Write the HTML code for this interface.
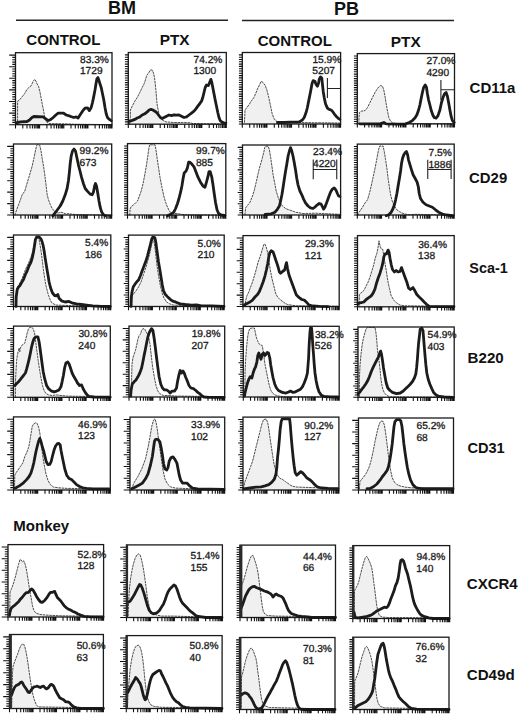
<!DOCTYPE html>
<html><head><meta charset="utf-8"><title>Figure</title>
<style>
html,body{margin:0;padding:0;background:#fff;}
body{width:520px;height:715px;overflow:hidden;}
svg{display:block;}
text{font-family:"Liberation Sans",sans-serif;fill:#111;}
.h1{font-size:18px;font-weight:bold;}
.h2{font-size:15px;font-weight:bold;}
.p{font-size:15.4px;}
.h3{font-size:15px;font-weight:bold;}
.lb{font-size:10.2px;fill:#1a1a1a;stroke:#1a1a1a;stroke-width:0.3;text-rendering:geometricPrecision;}
.hl{stroke:#222;stroke-width:1.5;}
.bx{fill:none;stroke:#1a1a1a;stroke-width:1.3;}
.tk{fill:none;stroke:#111;stroke-width:1.1;}
.gf{fill:#f0f0f0;stroke:none;}
.go{fill:none;stroke:#3a3a3a;stroke-width:0.9;stroke-dasharray:2.6 0.7;stroke-linejoin:round;}
.bk{fill:none;stroke:#1c1c1c;stroke-width:2.8;stroke-linejoin:round;stroke-linecap:round;}
.gt{fill:none;stroke:#222;stroke-width:1.1;}
</style></head><body>
<svg width="520" height="715" viewBox="0 0 520 715" xmlns="http://www.w3.org/2000/svg">
<text x="107.9" y="14.4" class="h1">BM</text>
<text x="334.1" y="15.0" class="h1">PB</text>
<line x1="16" y1="20.3" x2="228" y2="20.3" class="hl"/>
<line x1="242" y1="20.6" x2="454" y2="20.6" class="hl"/>
<text x="26.3" y="45.3" class="h2">CONTROL</text>
<text x="159.7" y="45.3" class="h2 p">PTX</text>
<text x="257.7" y="45.8" class="h2">CONTROL</text>
<text x="390.8" y="46.5" class="h2 p">PTX</text>
<text x="13.35" y="531.3" class="h2">Monkey</text>
<text x="469.6" y="92.8" class="h3" style="font-size:15.0px">CD11a</text>
<text x="469.1" y="182.6" class="h3" style="font-size:14.9px">CD29</text>
<text x="469.3" y="273.1" class="h3" style="font-size:14.4px">Sca-1</text>
<text x="467.6" y="362.6" class="h3" style="font-size:15.1px">B220</text>
<text x="467.4" y="453.1" class="h3" style="font-size:14.6px">CD31</text>
<text x="466.8" y="589.0" class="h3" style="font-size:15.0px">CXCR4</text>
<text x="466.8" y="679.7" class="h3" style="font-size:15.1px">CD49d</text>
<polygon points="17.6,124.7 17.6,125.0 17.6,111.2 17.6,101.2 19.5,100.0 22.0,96.9 24.5,93.8 27.0,89.4 28.9,87.5 30.8,86.2 32.0,83.8 33.2,81.2 34.8,79.4 36.0,81.2 37.0,83.8 38.5,86.2 39.8,91.2 41.0,97.5 42.2,103.8 43.5,110.0 44.5,116.2 45.5,120.0 47.0,122.5 50.0,123.6 64.5,123.8 74.0,124.2 111.6,124.6 111.6,124.7" class="gf"/>
<polyline points="17.6,125.0 17.6,111.2 17.6,101.2 19.5,100.0 22.0,96.9 24.5,93.8 27.0,89.4 28.9,87.5 30.8,86.2 32.0,83.8 33.2,81.2 34.8,79.4 36.0,81.2 37.0,83.8 38.5,86.2 39.8,91.2 41.0,97.5 42.2,103.8 43.5,110.0 44.5,116.2 45.5,120.0 47.0,122.5 50.0,123.6 64.5,123.8 74.0,124.2 111.6,124.6" class="go"/>
<polyline points="16.3,122.6 17.6,122.5 20.8,121.9 27.0,121.5 29.5,120.0 32.0,117.5 33.9,116.5 43.2,116.9 45.8,118.8 48.2,120.6 50.8,119.4 53.2,117.5 55.8,115.0 58.2,113.1 63.5,113.1 66.2,115.0 70.0,116.2 73.8,117.5 76.2,116.9 78.1,118.1 80.0,115.0 82.5,111.2 85.0,108.1 87.5,107.8 89.4,110.6 91.2,107.5 92.5,102.5 93.8,96.2 95.0,90.0 96.0,83.8 96.9,78.8 97.9,77.5 98.8,80.0 100.0,83.8 101.2,87.5 102.5,93.8 103.8,100.0 105.0,107.5 106.2,113.8 107.5,117.5 109.4,119.4 111.2,120.6" class="bk"/>
<rect x="15.5" y="52.7" width="96.5" height="72.0" class="bx"/>
<path d="M9.2 55.1H15.5M12.3 57.4H15.5M12.3 59.7H15.5M12.3 62.1H15.5M12.3 64.4H15.5M9.2 66.7H15.5M12.3 69.0H15.5M12.3 71.3H15.5M12.3 73.7H15.5M12.3 76.0H15.5M9.2 78.3H15.5M12.3 80.6H15.5M12.3 82.9H15.5M12.3 85.3H15.5M12.3 87.6H15.5M9.2 89.9H15.5M12.3 92.2H15.5M12.3 94.5H15.5M12.3 96.9H15.5M12.3 99.2H15.5M9.2 101.5H15.5M12.3 103.8H15.5M12.3 106.1H15.5M12.3 108.5H15.5M12.3 110.8H15.5M9.2 113.1H15.5M12.3 115.4H15.5M12.3 117.7H15.5M12.3 120.1H15.5M12.3 122.4H15.5M9.2 124.7H15.5M15.5 124.7V128.5M22.8 124.7V128.5M27.0 124.7V128.5M30.0 124.7V128.5M32.4 124.7V128.5M34.3 124.7V128.5M35.9 124.7V128.5M37.3 124.7V128.5M38.5 124.7V128.5M39.6 124.7V128.5M46.9 124.7V128.5M51.1 124.7V128.5M54.1 124.7V128.5M56.5 124.7V128.5M58.4 124.7V128.5M60.0 124.7V128.5M61.4 124.7V128.5M62.6 124.7V128.5M63.8 124.7V128.5M71.0 124.7V128.5M75.3 124.7V128.5M78.3 124.7V128.5M80.6 124.7V128.5M82.5 124.7V128.5M84.1 124.7V128.5M85.5 124.7V128.5M86.8 124.7V128.5M87.9 124.7V128.5M95.1 124.7V128.5M99.4 124.7V128.5M102.4 124.7V128.5M104.7 124.7V128.5M106.6 124.7V128.5M108.3 124.7V128.5M109.7 124.7V128.5M110.9 124.7V128.5M112.0 124.7V128.5" class="tk"/>
<text transform="translate(80.0,62.5) " class="lb">83.3%</text>
<text transform="translate(79.9,74.1) " class="lb">1729</text>
<polygon points="129.5,124.2 129.5,124.4 130.4,116.2 130.4,110.0 132.2,106.2 134.8,101.2 137.2,97.5 139.8,92.5 142.2,87.5 144.1,83.8 145.4,80.0 146.6,75.6 148.5,73.1 150.4,70.0 152.2,70.0 153.5,73.1 154.5,77.5 155.4,85.0 156.0,91.2 156.6,98.8 157.2,105.0 158.2,110.0 159.1,115.0 160.4,118.1 162.2,120.0 166.0,121.9 173.5,122.5 182.2,122.5 191.0,122.8 192.0,123.5 226.0,124.0 226.0,124.2" class="gf"/>
<polyline points="129.5,124.4 130.4,116.2 130.4,110.0 132.2,106.2 134.8,101.2 137.2,97.5 139.8,92.5 142.2,87.5 144.1,83.8 145.4,80.0 146.6,75.6 148.5,73.1 150.4,70.0 152.2,70.0 153.5,73.1 154.5,77.5 155.4,85.0 156.0,91.2 156.6,98.8 157.2,105.0 158.2,110.0 159.1,115.0 160.4,118.1 162.2,120.0 166.0,121.9 173.5,122.5 182.2,122.5 191.0,122.8 192.0,123.5 226.0,124.0" class="go"/>
<polyline points="129.2,121.3 131.6,120.6 134.8,119.4 137.2,118.1 139.8,116.9 142.2,115.0 144.8,113.8 147.2,111.9 149.1,110.0 151.0,109.4 152.9,110.0 154.8,111.2 156.6,112.5 158.5,115.0 160.4,117.5 162.2,118.5 164.1,117.5 166.5,116.2 169.0,115.0 171.5,115.6 174.0,114.8 176.5,115.2 179.0,115.0 181.5,116.2 184.0,117.5 186.5,116.9 189.0,115.0 191.5,113.1 194.0,111.2 195.9,108.8 197.8,106.2 199.6,103.8 201.5,101.2 202.8,97.5 204.0,92.5 205.2,87.5 206.5,85.0 208.4,85.6 209.6,82.5 210.9,79.4 211.8,82.5 212.8,87.5 214.0,93.8 215.2,100.0 216.5,106.2 217.8,112.5 219.0,117.5 220.2,120.6 222.1,122.2 224.0,122.8 225.9,123.1" class="bk"/>
<rect x="128.3" y="52.5" width="98.0" height="71.7" class="bx"/>
<path d="M124.9 54.9H128.3M124.9 57.2H128.3M124.9 59.5H128.3M124.9 61.8H128.3M124.9 64.1H128.3M124.9 66.5H128.3M124.9 68.8H128.3M124.9 71.1H128.3M124.9 73.4H128.3M124.9 75.7H128.3M124.9 78.0H128.3M124.9 80.3H128.3M124.9 82.6H128.3M124.9 84.9H128.3M124.9 87.2H128.3M124.9 89.5H128.3M124.9 91.9H128.3M124.9 94.2H128.3M124.9 96.5H128.3M124.9 98.8H128.3M124.9 101.1H128.3M124.9 103.4H128.3M124.9 105.7H128.3M124.9 108.0H128.3M124.9 110.3H128.3M124.9 112.7H128.3M124.9 115.0H128.3M124.9 117.3H128.3M124.9 119.6H128.3M124.9 121.9H128.3M124.9 124.2H128.3M128.3 124.2V128.0M135.7 124.2V128.0M140.0 124.2V128.0M143.1 124.2V128.0M145.4 124.2V128.0M147.4 124.2V128.0M149.0 124.2V128.0M150.4 124.2V128.0M151.7 124.2V128.0M152.8 124.2V128.0M160.2 124.2V128.0M164.5 124.2V128.0M167.6 124.2V128.0M169.9 124.2V128.0M171.9 124.2V128.0M173.5 124.2V128.0M174.9 124.2V128.0M176.2 124.2V128.0M177.3 124.2V128.0M184.7 124.2V128.0M189.0 124.2V128.0M192.1 124.2V128.0M194.4 124.2V128.0M196.4 124.2V128.0M198.0 124.2V128.0M199.4 124.2V128.0M200.7 124.2V128.0M201.8 124.2V128.0M209.2 124.2V128.0M213.5 124.2V128.0M216.6 124.2V128.0M218.9 124.2V128.0M220.9 124.2V128.0M222.5 124.2V128.0M223.9 124.2V128.0M225.2 124.2V128.0M226.3 124.2V128.0" class="tk"/>
<text transform="translate(193.5,62.9) " class="lb">74.2%</text>
<text transform="translate(193.4,74.4) " class="lb">1300</text>
<polygon points="244.4,124.0 244.4,122.8 244.4,122.5 244.8,115.0 245.0,110.0 246.9,107.5 248.8,105.0 251.2,101.2 253.8,97.5 255.6,93.8 257.5,88.8 259.4,85.0 261.2,81.2 263.1,82.5 265.0,85.0 266.9,90.0 268.8,97.5 270.6,106.2 272.2,113.8 273.8,118.1 275.6,120.6 277.5,121.9 281.2,122.2 300.0,122.6 340.0,123.0 340.0,124.0" class="gf"/>
<polyline points="244.4,122.8 244.4,122.5 244.8,115.0 245.0,110.0 246.9,107.5 248.8,105.0 251.2,101.2 253.8,97.5 255.6,93.8 257.5,88.8 259.4,85.0 261.2,81.2 263.1,82.5 265.0,85.0 266.9,90.0 268.8,97.5 270.6,106.2 272.2,113.8 273.8,118.1 275.6,120.6 277.5,121.9 281.2,122.2 300.0,122.6 340.0,123.0" class="go"/>
<polyline points="277.5,122.5 283.8,122.5 290.0,122.2 296.2,122.2 299.2,121.9 302.4,120.0 304.2,117.5 306.1,112.5 307.4,107.5 308.6,101.2 309.9,95.0 311.1,88.8 312.0,83.8 313.2,80.6 314.9,81.2 316.1,84.4 317.4,86.2 318.6,83.1 319.2,79.4 320.5,76.9 321.8,78.1 322.4,83.8 323.2,91.2 324.2,97.5 325.5,103.8 327.4,108.1 329.2,109.4 331.1,110.0 332.4,111.2 334.2,113.8 336.1,116.2 338.0,118.1 339.9,119.4" class="bk"/>
<rect x="242.3" y="52.5" width="98.3" height="71.5" class="bx"/>
<path d="M238.9 54.9H242.3M238.9 57.2H242.3M238.9 59.5H242.3M238.9 61.8H242.3M238.9 64.1H242.3M238.9 66.4H242.3M238.9 68.7H242.3M238.9 71.0H242.3M238.9 73.3H242.3M238.9 75.6H242.3M238.9 77.9H242.3M238.9 80.2H242.3M238.9 82.5H242.3M238.9 84.8H242.3M238.9 87.1H242.3M238.9 89.4H242.3M238.9 91.8H242.3M238.9 94.1H242.3M238.9 96.4H242.3M238.9 98.7H242.3M238.9 101.0H242.3M238.9 103.3H242.3M238.9 105.6H242.3M238.9 107.9H242.3M238.9 110.2H242.3M238.9 112.5H242.3M238.9 114.8H242.3M238.9 117.1H242.3M238.9 119.4H242.3M238.9 121.7H242.3M238.9 124.0H242.3M242.3 124.0V127.8M249.7 124.0V127.8M254.0 124.0V127.8M257.1 124.0V127.8M259.5 124.0V127.8M261.4 124.0V127.8M263.1 124.0V127.8M264.5 124.0V127.8M265.8 124.0V127.8M266.9 124.0V127.8M274.3 124.0V127.8M278.6 124.0V127.8M281.7 124.0V127.8M284.1 124.0V127.8M286.0 124.0V127.8M287.6 124.0V127.8M289.1 124.0V127.8M290.3 124.0V127.8M291.5 124.0V127.8M298.8 124.0V127.8M303.2 124.0V127.8M306.2 124.0V127.8M308.6 124.0V127.8M310.6 124.0V127.8M312.2 124.0V127.8M313.6 124.0V127.8M314.9 124.0V127.8M316.0 124.0V127.8M323.4 124.0V127.8M327.8 124.0V127.8M330.8 124.0V127.8M333.2 124.0V127.8M335.1 124.0V127.8M336.8 124.0V127.8M338.2 124.0V127.8M339.5 124.0V127.8M340.6 124.0V127.8" class="tk"/>
<text transform="translate(312.4,63.1) " class="lb">15.9%</text>
<text transform="translate(312.3,74.2) " class="lb">5207</text>
<polygon points="358.8,123.8 358.8,124.0 358.8,123.8 359.0,117.5 359.4,112.5 361.2,111.2 365.0,110.6 367.5,107.5 370.0,102.5 372.5,97.5 375.0,92.5 376.9,89.4 378.8,86.9 380.6,85.6 382.5,86.2 383.8,90.0 385.0,96.2 386.2,103.8 387.5,111.2 388.8,117.5 390.6,121.2 392.5,122.8 398.8,123.8 454.0,124.0 454.0,123.8" class="gf"/>
<polyline points="358.8,124.0 358.8,123.8 359.0,117.5 359.4,112.5 361.2,111.2 365.0,110.6 367.5,107.5 370.0,102.5 372.5,97.5 375.0,92.5 376.9,89.4 378.8,86.9 380.6,85.6 382.5,86.2 383.8,90.0 385.0,96.2 386.2,103.8 387.5,111.2 388.8,117.5 390.6,121.2 392.5,122.8 398.8,123.8 454.0,124.0" class="go"/>
<polyline points="360.0,123.8 380.0,123.8 382.0,123.2 383.8,122.5 385.5,123.5 386.2,123.8 398.8,124.2 400.5,124.2 405.5,123.8 409.2,122.5 412.4,120.6 414.9,118.1 416.8,115.0 418.6,110.0 419.9,105.0 421.1,98.8 422.4,92.5 423.6,87.5 425.2,85.0 426.5,87.5 427.4,93.8 428.6,100.0 429.9,105.0 431.1,110.0 432.8,115.0 434.2,117.5 436.1,118.1 438.0,115.6 439.9,110.0 441.5,102.5 443.0,97.5 444.5,93.8 446.1,92.5 447.4,96.2 448.6,102.5 449.9,110.0 451.1,116.2 452.4,120.6 454.2,122.5" class="bk"/>
<rect x="357.3" y="53.6" width="97.2" height="70.2" class="bx"/>
<path d="M353.9 56.0H357.3M353.9 58.3H357.3M353.9 60.5H357.3M353.9 62.8H357.3M353.9 65.0H357.3M353.9 67.3H357.3M353.9 69.6H357.3M353.9 71.8H357.3M353.9 74.1H357.3M353.9 76.3H357.3M353.9 78.6H357.3M353.9 80.9H357.3M353.9 83.1H357.3M353.9 85.4H357.3M353.9 87.6H357.3M353.9 89.9H357.3M353.9 92.2H357.3M353.9 94.4H357.3M353.9 96.7H357.3M353.9 98.9H357.3M353.9 101.2H357.3M353.9 103.5H357.3M353.9 105.7H357.3M353.9 108.0H357.3M353.9 110.2H357.3M353.9 112.5H357.3M353.9 114.8H357.3M353.9 117.0H357.3M353.9 119.3H357.3M353.9 121.5H357.3M353.9 123.8H357.3M357.3 123.8V127.6M364.6 123.8V127.6M368.9 123.8V127.6M371.9 123.8V127.6M374.3 123.8V127.6M376.2 123.8V127.6M377.8 123.8V127.6M379.2 123.8V127.6M380.5 123.8V127.6M381.6 123.8V127.6M388.9 123.8V127.6M393.2 123.8V127.6M396.2 123.8V127.6M398.6 123.8V127.6M400.5 123.8V127.6M402.1 123.8V127.6M403.5 123.8V127.6M404.8 123.8V127.6M405.9 123.8V127.6M413.2 123.8V127.6M417.5 123.8V127.6M420.5 123.8V127.6M422.9 123.8V127.6M424.8 123.8V127.6M426.4 123.8V127.6M427.8 123.8V127.6M429.1 123.8V127.6M430.2 123.8V127.6M437.5 123.8V127.6M441.8 123.8V127.6M444.8 123.8V127.6M447.2 123.8V127.6M449.1 123.8V127.6M450.7 123.8V127.6M452.1 123.8V127.6M453.4 123.8V127.6M454.5 123.8V127.6" class="tk"/>
<text transform="translate(426.5,64.1) " class="lb">27.0%</text>
<text transform="translate(426.4,75.8) " class="lb">4290</text>
<polygon points="15.0,215.0 15.0,215.3 15.4,213.5 16.6,209.8 18.5,204.8 20.4,199.8 22.2,194.8 24.8,191.0 26.6,184.8 28.5,178.5 30.4,172.2 32.2,166.0 34.1,157.2 35.4,151.0 36.6,145.4 37.9,144.5 39.8,145.4 41.0,151.0 42.2,158.5 43.5,166.0 44.8,174.8 46.0,184.8 47.2,194.8 48.5,199.8 50.4,204.8 52.2,208.5 54.1,211.0 56.0,212.2 58.5,212.9 61.0,212.2 63.5,212.9 66.0,214.1 68.5,213.5 71.0,214.1 76.0,214.5 99.0,215.0 111.0,215.3 111.0,215.0" class="gf"/>
<polyline points="15.0,215.3 15.4,213.5 16.6,209.8 18.5,204.8 20.4,199.8 22.2,194.8 24.8,191.0 26.6,184.8 28.5,178.5 30.4,172.2 32.2,166.0 34.1,157.2 35.4,151.0 36.6,145.4 37.9,144.5 39.8,145.4 41.0,151.0 42.2,158.5 43.5,166.0 44.8,174.8 46.0,184.8 47.2,194.8 48.5,199.8 50.4,204.8 52.2,208.5 54.1,211.0 56.0,212.2 58.5,212.9 61.0,212.2 63.5,212.9 66.0,214.1 68.5,213.5 71.0,214.1 76.0,214.5 99.0,215.0 111.0,215.3" class="go"/>
<polyline points="52.8,215.8 56.5,211.0 60.2,206.0 62.8,201.0 65.2,194.8 67.1,188.5 68.4,181.0 69.4,172.2 70.2,163.5 71.2,156.0 72.5,151.0 74.0,149.1 75.5,151.0 76.8,157.2 78.4,164.8 80.0,171.0 81.5,177.2 83.4,183.5 85.2,188.5 87.8,191.6 90.2,194.1 92.1,194.8 93.4,192.2 94.6,186.0 95.5,183.5 96.5,186.0 97.8,193.5 99.0,201.0 100.2,207.2 101.5,211.6 103.4,214.8 105.2,215.5" class="bk"/>
<rect x="13.5" y="144.0" width="98.2" height="71.0" class="bx"/>
<path d="M7.2 146.4H13.5M10.3 148.7H13.5M10.3 151.0H13.5M10.3 153.3H13.5M10.3 155.5H13.5M7.2 157.8H13.5M10.3 160.1H13.5M10.3 162.4H13.5M10.3 164.7H13.5M10.3 167.0H13.5M7.2 169.3H13.5M10.3 171.6H13.5M10.3 173.8H13.5M10.3 176.1H13.5M10.3 178.4H13.5M7.2 180.7H13.5M10.3 183.0H13.5M10.3 185.3H13.5M10.3 187.6H13.5M10.3 189.8H13.5M7.2 192.1H13.5M10.3 194.4H13.5M10.3 196.7H13.5M10.3 199.0H13.5M10.3 201.3H13.5M7.2 203.6H13.5M10.3 205.9H13.5M10.3 208.1H13.5M10.3 210.4H13.5M10.3 212.7H13.5M7.2 215.0H13.5M13.5 215.0V218.8M20.9 215.0V218.8M25.2 215.0V218.8M28.3 215.0V218.8M30.7 215.0V218.8M32.6 215.0V218.8M34.2 215.0V218.8M35.7 215.0V218.8M36.9 215.0V218.8M38.0 215.0V218.8M45.4 215.0V218.8M49.8 215.0V218.8M52.8 215.0V218.8M55.2 215.0V218.8M57.2 215.0V218.8M58.8 215.0V218.8M60.2 215.0V218.8M61.5 215.0V218.8M62.6 215.0V218.8M70.0 215.0V218.8M74.3 215.0V218.8M77.4 215.0V218.8M79.8 215.0V218.8M81.7 215.0V218.8M83.3 215.0V218.8M84.8 215.0V218.8M86.0 215.0V218.8M87.2 215.0V218.8M94.5 215.0V218.8M98.9 215.0V218.8M101.9 215.0V218.8M104.3 215.0V218.8M106.3 215.0V218.8M107.9 215.0V218.8M109.3 215.0V218.8M110.6 215.0V218.8M111.7 215.0V218.8" class="tk"/>
<text transform="translate(79.6,154.1) " class="lb">99.2%</text>
<text transform="translate(79.5,165.8) " class="lb">673</text>
<polygon points="129.8,215.0 129.8,215.5 129.8,214.1 130.0,209.1 131.2,206.6 134.4,204.1 137.5,201.0 139.4,196.0 141.2,191.0 143.1,183.5 145.0,173.5 146.5,164.8 147.8,156.0 148.8,148.5 149.6,144.8 155.0,144.8 156.0,149.8 157.2,158.5 158.5,167.2 160.0,177.2 161.9,187.2 163.8,196.0 165.6,202.2 167.5,207.2 169.4,211.0 171.2,212.9 173.8,213.5 177.5,213.6 180.0,214.1 185.0,214.8 225.0,215.3 225.0,215.0" class="gf"/>
<polyline points="129.8,215.5 129.8,214.1 130.0,209.1 131.2,206.6 134.4,204.1 137.5,201.0 139.4,196.0 141.2,191.0 143.1,183.5 145.0,173.5 146.5,164.8 147.8,156.0 148.8,148.5 149.6,144.8 155.0,144.8 156.0,149.8 157.2,158.5 158.5,167.2 160.0,177.2 161.9,187.2 163.8,196.0 165.6,202.2 167.5,207.2 169.4,211.0 171.2,212.9 173.8,213.5 177.5,213.6 180.0,214.1 185.0,214.8 225.0,215.3" class="go"/>
<polyline points="167.5,215.8 171.2,214.1 173.8,212.2 175.6,208.5 177.5,203.5 179.0,198.5 180.6,192.2 181.9,186.0 183.1,178.5 184.2,172.9 186.1,171.0 187.4,167.9 188.6,162.2 189.9,162.2 191.8,164.1 194.2,167.2 196.1,172.2 198.0,177.2 200.5,182.2 203.0,186.0 204.9,187.2 206.1,183.5 207.8,177.2 209.0,171.6 210.2,171.6 211.8,177.2 213.0,184.8 214.2,193.5 215.5,202.2 217.0,209.8 218.6,213.5 221.1,215.0 224.2,215.4" class="bk"/>
<rect x="127.5" y="143.6" width="98.3" height="71.4" class="bx"/>
<path d="M124.1 146.0H127.5M124.1 148.3H127.5M124.1 150.6H127.5M124.1 152.9H127.5M124.1 155.2H127.5M124.1 157.5H127.5M124.1 159.8H127.5M124.1 162.1H127.5M124.1 164.4H127.5M124.1 166.7H127.5M124.1 169.0H127.5M124.1 171.3H127.5M124.1 173.6H127.5M124.1 175.9H127.5M124.1 178.2H127.5M124.1 180.5H127.5M124.1 182.8H127.5M124.1 185.1H127.5M124.1 187.4H127.5M124.1 189.7H127.5M124.1 192.0H127.5M124.1 194.3H127.5M124.1 196.6H127.5M124.1 198.9H127.5M124.1 201.2H127.5M124.1 203.5H127.5M124.1 205.8H127.5M124.1 208.1H127.5M124.1 210.4H127.5M124.1 212.7H127.5M124.1 215.0H127.5M127.5 215.0V218.8M134.9 215.0V218.8M139.2 215.0V218.8M142.3 215.0V218.8M144.7 215.0V218.8M146.6 215.0V218.8M148.3 215.0V218.8M149.7 215.0V218.8M151.0 215.0V218.8M152.1 215.0V218.8M159.5 215.0V218.8M163.8 215.0V218.8M166.9 215.0V218.8M169.3 215.0V218.8M171.2 215.0V218.8M172.8 215.0V218.8M174.3 215.0V218.8M175.5 215.0V218.8M176.7 215.0V218.8M184.0 215.0V218.8M188.4 215.0V218.8M191.4 215.0V218.8M193.8 215.0V218.8M195.8 215.0V218.8M197.4 215.0V218.8M198.8 215.0V218.8M200.1 215.0V218.8M201.2 215.0V218.8M208.6 215.0V218.8M213.0 215.0V218.8M216.0 215.0V218.8M218.4 215.0V218.8M220.3 215.0V218.8M222.0 215.0V218.8M223.4 215.0V218.8M224.7 215.0V218.8M225.8 215.0V218.8" class="tk"/>
<text transform="translate(196.0,154.4) " class="lb">99.7%</text>
<text transform="translate(195.9,166.3) " class="lb">885</text>
<polygon points="245.0,215.0 245.0,215.0 245.0,214.1 245.6,207.9 247.5,205.4 250.0,202.2 252.5,196.0 254.4,189.8 256.2,182.2 258.1,173.5 260.0,166.0 262.2,158.5 263.8,152.2 264.8,147.2 265.6,146.2 268.1,146.2 269.4,149.8 270.6,157.2 271.9,166.0 273.1,174.8 274.8,183.5 276.2,191.0 278.1,197.2 280.0,202.2 282.5,206.0 285.6,208.5 288.8,209.8 292.5,211.0 295.5,212.2 303.0,213.5 315.5,213.2 328.0,213.8 340.0,214.3 340.0,215.0" class="gf"/>
<polyline points="245.0,215.0 245.0,214.1 245.6,207.9 247.5,205.4 250.0,202.2 252.5,196.0 254.4,189.8 256.2,182.2 258.1,173.5 260.0,166.0 262.2,158.5 263.8,152.2 264.8,147.2 265.6,146.2 268.1,146.2 269.4,149.8 270.6,157.2 271.9,166.0 273.1,174.8 274.8,183.5 276.2,191.0 278.1,197.2 280.0,202.2 282.5,206.0 285.6,208.5 288.8,209.8 292.5,211.0 295.5,212.2 303.0,213.5 315.5,213.2 328.0,213.8 340.0,214.3" class="go"/>
<polyline points="265.0,214.5 271.2,213.8 275.0,212.2 277.5,209.1 279.4,206.0 280.6,201.0 281.9,194.8 283.1,187.2 284.4,178.5 285.6,171.0 286.9,163.5 288.1,156.0 289.4,151.0 290.5,147.6 291.8,151.0 293.0,156.0 294.2,162.2 295.5,169.8 296.8,178.5 298.0,184.8 299.9,191.0 301.8,194.8 303.6,199.1 305.5,202.9 308.0,206.0 310.5,207.9 313.0,208.5 315.5,206.6 317.4,204.8 319.2,203.5 321.1,204.1 322.4,206.6 323.6,209.1 324.9,207.2 326.8,202.2 328.6,197.2 330.5,192.2 332.4,189.1 334.2,187.9 335.8,189.8 337.4,193.5 338.6,196.0 340.0,196.5" class="bk"/>
<rect x="242.5" y="145.0" width="98.1" height="70.0" class="bx"/>
<path d="M237.7 147.4H242.5M239.3 149.7H242.5M239.3 151.9H242.5M239.3 154.2H242.5M239.3 156.4H242.5M237.7 158.7H242.5M239.3 160.9H242.5M239.3 163.2H242.5M239.3 165.4H242.5M239.3 167.7H242.5M237.7 169.9H242.5M239.3 172.2H242.5M239.3 174.4H242.5M239.3 176.7H242.5M239.3 178.9H242.5M237.7 181.2H242.5M239.3 183.5H242.5M239.3 185.7H242.5M239.3 188.0H242.5M239.3 190.2H242.5M237.7 192.5H242.5M239.3 194.7H242.5M239.3 197.0H242.5M239.3 199.2H242.5M239.3 201.5H242.5M237.7 203.7H242.5M239.3 206.0H242.5M239.3 208.2H242.5M239.3 210.5H242.5M239.3 212.7H242.5M237.7 215.0H242.5M242.5 215.0V218.8M249.9 215.0V218.8M254.2 215.0V218.8M257.3 215.0V218.8M259.6 215.0V218.8M261.6 215.0V218.8M263.2 215.0V218.8M264.6 215.0V218.8M265.9 215.0V218.8M267.0 215.0V218.8M274.4 215.0V218.8M278.7 215.0V218.8M281.8 215.0V218.8M284.2 215.0V218.8M286.1 215.0V218.8M287.8 215.0V218.8M289.2 215.0V218.8M290.4 215.0V218.8M291.6 215.0V218.8M298.9 215.0V218.8M303.3 215.0V218.8M306.3 215.0V218.8M308.7 215.0V218.8M310.6 215.0V218.8M312.3 215.0V218.8M313.7 215.0V218.8M315.0 215.0V218.8M316.1 215.0V218.8M323.5 215.0V218.8M327.8 215.0V218.8M330.8 215.0V218.8M333.2 215.0V218.8M335.2 215.0V218.8M336.8 215.0V218.8M338.2 215.0V218.8M339.5 215.0V218.8M340.6 215.0V218.8" class="tk"/>
<text transform="translate(313.1,154.7) " class="lb">23.4%</text>
<text transform="translate(313.0,166.6) " class="lb">4220</text>
<polygon points="358.0,215.0 358.0,215.5 358.1,213.5 360.0,211.0 362.5,207.2 365.0,202.9 367.5,199.8 369.4,193.5 371.2,186.0 373.1,177.2 375.0,168.5 376.9,158.5 378.5,149.8 379.8,146.0 383.1,146.0 384.4,152.2 385.6,159.8 386.9,168.5 388.1,178.5 389.4,187.2 390.6,194.8 392.2,201.0 394.4,206.0 396.9,209.8 399.4,211.6 401.9,212.9 405.0,214.1 410.0,214.8 415.0,214.3 454.0,215.3 454.0,215.0" class="gf"/>
<polyline points="358.0,215.5 358.1,213.5 360.0,211.0 362.5,207.2 365.0,202.9 367.5,199.8 369.4,193.5 371.2,186.0 373.1,177.2 375.0,168.5 376.9,158.5 378.5,149.8 379.8,146.0 383.1,146.0 384.4,152.2 385.6,159.8 386.9,168.5 388.1,178.5 389.4,187.2 390.6,194.8 392.2,201.0 394.4,206.0 396.9,209.8 399.4,211.6 401.9,212.9 405.0,214.1 410.0,214.8 415.0,214.3 454.0,215.3" class="go"/>
<polyline points="386.2,215.8 388.8,214.8 391.2,212.2 393.1,208.5 394.4,204.8 395.6,199.8 396.9,193.5 398.1,186.0 399.4,178.5 400.6,171.0 401.5,163.5 402.5,158.5 403.8,154.8 405.0,152.9 406.5,151.6 407.6,154.8 408.5,159.8 410.0,164.8 411.5,169.8 413.1,174.8 415.2,178.5 417.1,182.2 418.4,187.2 419.2,193.5 420.5,198.5 423.0,202.2 426.1,204.8 429.2,206.0 432.4,207.2 435.5,209.8 438.6,212.2 442.4,214.1 446.8,215.0 451.8,215.6" class="bk"/>
<rect x="357.3" y="144.1" width="96.9" height="70.9" class="bx"/>
<path d="M353.9 146.5H357.3M353.9 148.8H357.3M353.9 151.1H357.3M353.9 153.3H357.3M353.9 155.6H357.3M353.9 157.9H357.3M353.9 160.2H357.3M353.9 162.5H357.3M353.9 164.8H357.3M353.9 167.1H357.3M353.9 169.3H357.3M353.9 171.6H357.3M353.9 173.9H357.3M353.9 176.2H357.3M353.9 178.5H357.3M353.9 180.8H357.3M353.9 183.0H357.3M353.9 185.3H357.3M353.9 187.6H357.3M353.9 189.9H357.3M353.9 192.2H357.3M353.9 194.4H357.3M353.9 196.7H357.3M353.9 199.0H357.3M353.9 201.3H357.3M353.9 203.6H357.3M353.9 205.9H357.3M353.9 208.2H357.3M353.9 210.4H357.3M353.9 212.7H357.3M353.9 215.0H357.3M357.3 215.0V218.8M364.6 215.0V218.8M368.9 215.0V218.8M371.9 215.0V218.8M374.2 215.0V218.8M376.2 215.0V218.8M377.8 215.0V218.8M379.2 215.0V218.8M380.4 215.0V218.8M381.5 215.0V218.8M388.8 215.0V218.8M393.1 215.0V218.8M396.1 215.0V218.8M398.5 215.0V218.8M400.4 215.0V218.8M402.0 215.0V218.8M403.4 215.0V218.8M404.6 215.0V218.8M405.8 215.0V218.8M413.0 215.0V218.8M417.3 215.0V218.8M420.3 215.0V218.8M422.7 215.0V218.8M424.6 215.0V218.8M426.2 215.0V218.8M427.6 215.0V218.8M428.9 215.0V218.8M430.0 215.0V218.8M437.3 215.0V218.8M441.5 215.0V218.8M444.6 215.0V218.8M446.9 215.0V218.8M448.8 215.0V218.8M450.4 215.0V218.8M451.9 215.0V218.8M453.1 215.0V218.8M454.2 215.0V218.8" class="tk"/>
<text transform="translate(428.5,155.7) " class="lb">7.5%</text>
<text transform="translate(428.4,167.9) " class="lb">1886</text>
<polygon points="16.0,306.5 16.0,306.5 16.0,305.8 16.6,289.5 18.5,285.8 20.4,282.0 22.2,278.2 24.1,273.2 26.0,268.2 28.5,263.2 31.0,257.0 32.9,250.8 34.1,244.5 35.4,239.5 37.2,237.6 39.1,239.5 40.0,244.5 41.0,250.8 42.2,259.5 43.2,268.2 44.5,277.0 46.0,285.8 47.9,293.2 49.8,298.9 51.6,302.6 54.1,304.2 56.6,305.1 70.0,305.6 110.5,306.2 110.5,306.5" class="gf"/>
<polyline points="16.0,306.5 16.0,305.8 16.6,289.5 18.5,285.8 20.4,282.0 22.2,278.2 24.1,273.2 26.0,268.2 28.5,263.2 31.0,257.0 32.9,250.8 34.1,244.5 35.4,239.5 37.2,237.6 39.1,239.5 40.0,244.5 41.0,250.8 42.2,259.5 43.2,268.2 44.5,277.0 46.0,285.8 47.9,293.2 49.8,298.9 51.6,302.6 54.1,304.2 56.6,305.1 70.0,305.6 110.5,306.2" class="go"/>
<polyline points="16.0,306.4 16.2,297.0 17.2,289.5 18.5,287.0 19.8,285.8 21.6,282.6 23.5,279.5 25.4,274.5 27.2,270.8 29.1,265.8 31.0,262.0 32.2,258.2 33.5,252.0 34.5,245.8 35.4,239.5 36.6,237.0 39.1,237.0 41.0,238.9 42.2,242.0 43.2,245.8 44.1,250.8 45.0,257.0 46.0,263.2 47.0,269.5 48.1,275.8 49.1,282.0 50.6,288.0 52.5,293.0 54.6,295.5 56.4,295.8 57.8,294.5 59.0,298.2 61.5,300.8 65.2,302.0 69.0,301.4 72.8,303.2 76.5,303.9 81.5,304.5 86.5,305.1 92.8,305.8 101.5,306.3 110.2,306.5" class="bk"/>
<rect x="13.5" y="235.0" width="97.3" height="71.5" class="bx"/>
<path d="M7.2 237.4H13.5M10.3 239.7H13.5M10.3 242.0H13.5M10.3 244.3H13.5M10.3 246.6H13.5M7.2 248.9H13.5M10.3 251.2H13.5M10.3 253.5H13.5M10.3 255.8H13.5M10.3 258.1H13.5M7.2 260.4H13.5M10.3 262.7H13.5M10.3 265.0H13.5M10.3 267.3H13.5M10.3 269.6H13.5M7.2 271.9H13.5M10.3 274.3H13.5M10.3 276.6H13.5M10.3 278.9H13.5M10.3 281.2H13.5M7.2 283.5H13.5M10.3 285.8H13.5M10.3 288.1H13.5M10.3 290.4H13.5M10.3 292.7H13.5M7.2 295.0H13.5M10.3 297.3H13.5M10.3 299.6H13.5M10.3 301.9H13.5M10.3 304.2H13.5M7.2 306.5H13.5M13.5 306.5V310.3M20.8 306.5V310.3M25.1 306.5V310.3M28.1 306.5V310.3M30.5 306.5V310.3M32.4 306.5V310.3M34.1 306.5V310.3M35.5 306.5V310.3M36.7 306.5V310.3M37.8 306.5V310.3M45.1 306.5V310.3M49.4 306.5V310.3M52.5 306.5V310.3M54.8 306.5V310.3M56.8 306.5V310.3M58.4 306.5V310.3M59.8 306.5V310.3M61.0 306.5V310.3M62.1 306.5V310.3M69.5 306.5V310.3M73.8 306.5V310.3M76.8 306.5V310.3M79.2 306.5V310.3M81.1 306.5V310.3M82.7 306.5V310.3M84.1 306.5V310.3M85.4 306.5V310.3M86.5 306.5V310.3M93.8 306.5V310.3M98.1 306.5V310.3M101.1 306.5V310.3M103.5 306.5V310.3M105.4 306.5V310.3M107.0 306.5V310.3M108.4 306.5V310.3M109.7 306.5V310.3M110.8 306.5V310.3" class="tk"/>
<text transform="translate(85.0,246.2) " class="lb">5.4%</text>
<text transform="translate(84.9,257.8) " class="lb">186</text>
<polygon points="131.6,306.5 131.6,306.5 131.6,305.8 132.2,295.8 134.1,293.2 136.0,290.8 138.5,287.0 141.0,282.0 143.5,274.5 146.0,267.0 148.5,258.2 150.4,250.8 151.6,244.5 152.9,239.5 154.1,242.0 155.0,248.2 156.0,257.0 157.2,267.0 158.8,277.0 160.4,285.8 162.2,293.2 164.1,298.2 166.6,302.0 169.8,303.9 173.5,305.1 190.0,305.6 224.0,306.2 224.0,306.5" class="gf"/>
<polyline points="131.6,306.5 131.6,305.8 132.2,295.8 134.1,293.2 136.0,290.8 138.5,287.0 141.0,282.0 143.5,274.5 146.0,267.0 148.5,258.2 150.4,250.8 151.6,244.5 152.9,239.5 154.1,242.0 155.0,248.2 156.0,257.0 157.2,267.0 158.8,277.0 160.4,285.8 162.2,293.2 164.1,298.2 166.6,302.0 169.8,303.9 173.5,305.1 190.0,305.6 224.0,306.2" class="go"/>
<polyline points="131.0,306.4 131.2,298.2 132.0,292.0 133.2,287.0 134.8,284.5 136.6,282.0 138.5,280.1 140.4,275.8 142.2,270.8 144.1,265.8 146.0,260.8 147.5,255.8 149.1,249.5 150.4,244.5 151.6,239.5 152.9,237.0 154.8,237.6 155.8,242.0 156.6,248.2 157.5,254.5 158.5,262.0 159.8,269.5 161.0,277.0 162.2,284.5 163.5,290.8 165.4,294.5 167.2,296.4 169.1,298.2 171.0,300.1 173.5,301.4 176.0,302.2 180.2,303.9 185.2,304.5 191.5,305.1 196.5,304.8 201.5,305.8 211.5,305.8 224.0,306.4" class="bk"/>
<rect x="128.5" y="235.1" width="95.7" height="71.4" class="bx"/>
<path d="M123.7 237.5H128.5M125.3 239.8H128.5M125.3 242.1H128.5M125.3 244.4H128.5M125.3 246.7H128.5M123.7 249.0H128.5M125.3 251.3H128.5M125.3 253.6H128.5M125.3 255.9H128.5M125.3 258.2H128.5M123.7 260.5H128.5M125.3 262.8H128.5M125.3 265.1H128.5M125.3 267.4H128.5M125.3 269.7H128.5M123.7 272.0H128.5M125.3 274.3H128.5M125.3 276.6H128.5M125.3 278.9H128.5M125.3 281.2H128.5M123.7 283.5H128.5M125.3 285.8H128.5M125.3 288.1H128.5M125.3 290.4H128.5M125.3 292.7H128.5M123.7 295.0H128.5M125.3 297.3H128.5M125.3 299.6H128.5M125.3 301.9H128.5M125.3 304.2H128.5M123.7 306.5H128.5M128.5 306.5V310.3M135.7 306.5V310.3M139.9 306.5V310.3M142.9 306.5V310.3M145.2 306.5V310.3M147.1 306.5V310.3M148.7 306.5V310.3M150.1 306.5V310.3M151.3 306.5V310.3M152.4 306.5V310.3M159.6 306.5V310.3M163.8 306.5V310.3M166.8 306.5V310.3M169.1 306.5V310.3M171.0 306.5V310.3M172.6 306.5V310.3M174.0 306.5V310.3M175.3 306.5V310.3M176.3 306.5V310.3M183.6 306.5V310.3M187.8 306.5V310.3M190.8 306.5V310.3M193.1 306.5V310.3M195.0 306.5V310.3M196.6 306.5V310.3M198.0 306.5V310.3M199.2 306.5V310.3M200.3 306.5V310.3M207.5 306.5V310.3M211.7 306.5V310.3M214.7 306.5V310.3M217.0 306.5V310.3M218.9 306.5V310.3M220.5 306.5V310.3M221.9 306.5V310.3M223.1 306.5V310.3M224.2 306.5V310.3" class="tk"/>
<text transform="translate(197.6,246.7) " class="lb">5.0%</text>
<text transform="translate(197.5,258.4) " class="lb">210</text>
<polygon points="245.2,306.5 245.2,306.5 245.2,305.8 245.6,300.8 246.9,295.8 248.8,292.0 250.6,287.0 252.5,282.0 254.4,275.8 256.2,269.5 258.1,262.0 260.0,257.0 261.9,250.8 263.8,244.5 264.8,243.9 266.2,247.0 267.5,252.0 269.0,260.8 270.2,269.5 271.9,278.2 273.8,285.8 275.6,293.2 277.5,297.0 280.0,299.5 282.5,301.4 285.0,303.2 287.5,304.5 291.2,305.1 296.2,305.8 339.0,306.3 339.0,306.5" class="gf"/>
<polyline points="245.2,306.5 245.2,305.8 245.6,300.8 246.9,295.8 248.8,292.0 250.6,287.0 252.5,282.0 254.4,275.8 256.2,269.5 258.1,262.0 260.0,257.0 261.9,250.8 263.8,244.5 264.8,243.9 266.2,247.0 267.5,252.0 269.0,260.8 270.2,269.5 271.9,278.2 273.8,285.8 275.6,293.2 277.5,297.0 280.0,299.5 282.5,301.4 285.0,303.2 287.5,304.5 291.2,305.1 296.2,305.8 339.0,306.3" class="go"/>
<polyline points="244.0,305.5 245.0,304.5 247.5,303.2 250.0,302.0 252.5,300.1 255.0,297.0 257.5,294.5 259.4,291.4 261.2,287.0 263.1,282.0 265.0,275.8 266.5,269.5 267.8,263.2 268.8,257.0 269.8,252.6 271.2,250.8 273.1,252.0 274.4,255.8 275.6,259.5 276.9,263.2 278.1,267.0 279.4,272.0 280.6,273.2 282.5,271.5 284.6,270.0 285.8,265.0 286.5,262.6 287.5,268.5 289.0,275.0 290.8,280.0 292.6,284.8 294.5,290.0 296.4,295.0 299.2,297.6 301.8,299.5 304.2,300.1 306.8,302.6 309.2,305.1 313.0,306.0 319.2,306.4 328.0,306.6" class="bk"/>
<rect x="243.0" y="235.6" width="96.2" height="70.9" class="bx"/>
<path d="M236.7 238.0H243.0M239.8 240.3H243.0M239.8 242.6H243.0M239.8 244.8H243.0M239.8 247.1H243.0M236.7 249.4H243.0M239.8 251.7H243.0M239.8 254.0H243.0M239.8 256.3H243.0M239.8 258.6H243.0M236.7 260.8H243.0M239.8 263.1H243.0M239.8 265.4H243.0M239.8 267.7H243.0M239.8 270.0H243.0M236.7 272.2H243.0M239.8 274.5H243.0M239.8 276.8H243.0M239.8 279.1H243.0M239.8 281.4H243.0M236.7 283.7H243.0M239.8 285.9H243.0M239.8 288.2H243.0M239.8 290.5H243.0M239.8 292.8H243.0M236.7 295.1H243.0M239.8 297.4H243.0M239.8 299.6H243.0M239.8 301.9H243.0M239.8 304.2H243.0M236.7 306.5H243.0M243.0 306.5V310.3M250.2 306.5V310.3M254.5 306.5V310.3M257.5 306.5V310.3M259.8 306.5V310.3M261.7 306.5V310.3M263.3 306.5V310.3M264.7 306.5V310.3M265.9 306.5V310.3M267.1 306.5V310.3M274.3 306.5V310.3M278.5 306.5V310.3M281.5 306.5V310.3M283.9 306.5V310.3M285.8 306.5V310.3M287.4 306.5V310.3M288.8 306.5V310.3M290.0 306.5V310.3M291.1 306.5V310.3M298.3 306.5V310.3M302.6 306.5V310.3M305.6 306.5V310.3M307.9 306.5V310.3M309.8 306.5V310.3M311.4 306.5V310.3M312.8 306.5V310.3M314.0 306.5V310.3M315.1 306.5V310.3M322.4 306.5V310.3M326.6 306.5V310.3M329.6 306.5V310.3M332.0 306.5V310.3M333.9 306.5V310.3M335.5 306.5V310.3M336.9 306.5V310.3M338.1 306.5V310.3M339.2 306.5V310.3" class="tk"/>
<text transform="translate(304.9,247.3) " class="lb">29.3%</text>
<text transform="translate(304.8,258.9) " class="lb">121</text>
<polygon points="359.0,306.8 359.0,306.5 359.0,305.8 359.4,294.5 360.6,293.2 362.5,292.0 364.4,289.5 366.2,285.8 368.1,282.0 370.0,277.0 371.9,270.8 373.8,264.5 375.2,258.2 376.9,253.2 378.1,247.0 379.0,240.8 380.0,245.8 381.2,248.9 382.8,249.5 384.0,257.0 385.2,264.5 386.5,272.0 387.8,280.8 389.4,288.2 391.2,295.8 393.8,300.1 396.9,303.2 400.0,305.1 405.0,305.8 454.0,306.3 454.0,306.8" class="gf"/>
<polyline points="359.0,306.5 359.0,305.8 359.4,294.5 360.6,293.2 362.5,292.0 364.4,289.5 366.2,285.8 368.1,282.0 370.0,277.0 371.9,270.8 373.8,264.5 375.2,258.2 376.9,253.2 378.1,247.0 379.0,240.8 380.0,245.8 381.2,248.9 382.8,249.5 384.0,257.0 385.2,264.5 386.5,272.0 387.8,280.8 389.4,288.2 391.2,295.8 393.8,300.1 396.9,303.2 400.0,305.1 405.0,305.8 454.0,306.3" class="go"/>
<polyline points="358.0,304.0 358.8,303.2 361.2,302.6 363.8,302.0 366.2,299.5 368.8,297.6 371.2,295.8 373.1,293.2 375.0,288.9 376.5,283.2 378.1,278.2 380.0,273.2 381.5,268.2 382.8,263.2 383.8,257.0 385.0,253.9 386.5,253.9 388.1,250.1 389.0,252.0 390.0,258.2 391.2,264.5 392.5,269.5 394.4,272.0 396.2,270.5 398.1,272.0 400.0,271.5 401.5,267.6 403.1,272.0 404.9,277.0 406.8,282.0 408.6,288.2 410.5,289.5 413.0,287.6 414.9,290.8 416.8,294.5 419.2,297.0 421.8,299.5 424.2,302.0 426.8,304.5 429.2,306.3 434.2,306.6 454.0,306.6" class="bk"/>
<rect x="357.5" y="235.6" width="96.7" height="71.2" class="bx"/>
<path d="M354.1 238.0H357.5M354.1 240.3H357.5M354.1 242.6H357.5M354.1 244.9H357.5M354.1 247.2H357.5M354.1 249.5H357.5M354.1 251.8H357.5M354.1 254.1H357.5M354.1 256.3H357.5M354.1 258.6H357.5M354.1 260.9H357.5M354.1 263.2H357.5M354.1 265.5H357.5M354.1 267.8H357.5M354.1 270.1H357.5M354.1 272.4H357.5M354.1 274.7H357.5M354.1 277.0H357.5M354.1 279.3H357.5M354.1 281.6H357.5M354.1 283.9H357.5M354.1 286.2H357.5M354.1 288.5H357.5M354.1 290.7H357.5M354.1 293.0H357.5M354.1 295.3H357.5M354.1 297.6H357.5M354.1 299.9H357.5M354.1 302.2H357.5M354.1 304.5H357.5M354.1 306.8H357.5M357.5 306.8V310.6M364.8 306.8V310.6M369.0 306.8V310.6M372.1 306.8V310.6M374.4 306.8V310.6M376.3 306.8V310.6M377.9 306.8V310.6M379.3 306.8V310.6M380.6 306.8V310.6M381.7 306.8V310.6M389.0 306.8V310.6M393.2 306.8V310.6M396.2 306.8V310.6M398.6 306.8V310.6M400.5 306.8V310.6M402.1 306.8V310.6M403.5 306.8V310.6M404.7 306.8V310.6M405.9 306.8V310.6M413.1 306.8V310.6M417.4 306.8V310.6M420.4 306.8V310.6M422.7 306.8V310.6M424.7 306.8V310.6M426.3 306.8V310.6M427.7 306.8V310.6M428.9 306.8V310.6M430.0 306.8V310.6M437.3 306.8V310.6M441.6 306.8V310.6M444.6 306.8V310.6M446.9 306.8V310.6M448.8 306.8V310.6M450.5 306.8V310.6M451.9 306.8V310.6M453.1 306.8V310.6M454.2 306.8V310.6" class="tk"/>
<text transform="translate(418.2,247.8) " class="lb">36.4%</text>
<text transform="translate(418.1,259.4) " class="lb">138</text>
<polygon points="15.4,397.3 15.4,397.3 15.4,396.8 15.4,383.0 16.0,370.5 16.6,360.5 17.5,354.2 18.5,350.5 19.1,348.0 19.8,351.8 20.4,348.0 21.6,345.5 23.5,344.2 24.8,343.0 26.0,338.0 27.2,333.0 28.5,328.6 29.8,327.4 31.6,327.4 33.2,328.6 34.5,333.0 35.4,339.2 36.2,345.5 37.2,353.0 38.2,360.5 39.5,369.2 41.0,378.0 42.5,385.5 44.1,390.5 46.0,393.6 48.5,394.9 52.2,395.5 56.0,394.9 61.0,395.5 67.2,396.1 110.0,396.8 110.0,397.3" class="gf"/>
<polyline points="15.4,397.3 15.4,396.8 15.4,383.0 16.0,370.5 16.6,360.5 17.5,354.2 18.5,350.5 19.1,348.0 19.8,351.8 20.4,348.0 21.6,345.5 23.5,344.2 24.8,343.0 26.0,338.0 27.2,333.0 28.5,328.6 29.8,327.4 31.6,327.4 33.2,328.6 34.5,333.0 35.4,339.2 36.2,345.5 37.2,353.0 38.2,360.5 39.5,369.2 41.0,378.0 42.5,385.5 44.1,390.5 46.0,393.6 48.5,394.9 52.2,395.5 56.0,394.9 61.0,395.5 67.2,396.1 110.0,396.8" class="go"/>
<polyline points="14.8,385.5 16.0,384.2 18.5,381.8 21.0,378.6 23.5,375.5 25.4,373.0 26.6,369.2 27.9,364.2 29.1,359.2 30.4,353.0 31.6,346.8 32.9,341.8 34.1,338.6 36.0,336.8 37.9,336.8 39.1,341.8 40.0,348.0 41.0,355.5 42.0,363.0 43.2,371.8 44.8,379.2 46.6,385.5 48.5,388.6 51.0,390.8 54.1,391.8 56.6,391.1 59.1,389.9 60.9,386.8 62.1,381.8 63.4,375.5 64.6,368.0 65.9,363.0 67.8,362.0 69.2,364.2 70.5,368.0 72.1,373.0 74.0,376.8 75.9,379.9 77.5,383.0 79.6,385.5 81.5,384.9 83.4,389.2 85.2,392.4 87.1,394.9 89.0,396.5 94.0,397.0 101.5,397.2 110.2,397.2" class="bk"/>
<rect x="13.5" y="326.1" width="96.8" height="71.2" class="bx"/>
<path d="M7.2 328.5H13.5M10.3 330.8H13.5M10.3 333.1H13.5M10.3 335.4H13.5M10.3 337.7H13.5M7.2 340.0H13.5M10.3 342.3H13.5M10.3 344.6H13.5M10.3 346.8H13.5M10.3 349.1H13.5M7.2 351.4H13.5M10.3 353.7H13.5M10.3 356.0H13.5M10.3 358.3H13.5M10.3 360.6H13.5M7.2 362.9H13.5M10.3 365.2H13.5M10.3 367.5H13.5M10.3 369.8H13.5M10.3 372.1H13.5M7.2 374.4H13.5M10.3 376.7H13.5M10.3 379.0H13.5M10.3 381.2H13.5M10.3 383.5H13.5M7.2 385.8H13.5M10.3 388.1H13.5M10.3 390.4H13.5M10.3 392.7H13.5M10.3 395.0H13.5M7.2 397.3H13.5M13.5 397.3V401.1M20.8 397.3V401.1M25.0 397.3V401.1M28.1 397.3V401.1M30.4 397.3V401.1M32.3 397.3V401.1M34.0 397.3V401.1M35.4 397.3V401.1M36.6 397.3V401.1M37.7 397.3V401.1M45.0 397.3V401.1M49.2 397.3V401.1M52.3 397.3V401.1M54.6 397.3V401.1M56.5 397.3V401.1M58.2 397.3V401.1M59.6 397.3V401.1M60.8 397.3V401.1M61.9 397.3V401.1M69.2 397.3V401.1M73.4 397.3V401.1M76.5 397.3V401.1M78.8 397.3V401.1M80.7 397.3V401.1M82.4 397.3V401.1M83.8 397.3V401.1M85.0 397.3V401.1M86.1 397.3V401.1M93.4 397.3V401.1M97.6 397.3V401.1M100.7 397.3V401.1M103.0 397.3V401.1M104.9 397.3V401.1M106.6 397.3V401.1M108.0 397.3V401.1M109.2 397.3V401.1M110.3 397.3V401.1" class="tk"/>
<text transform="translate(78.4,337.2) " class="lb">30.8%</text>
<text transform="translate(78.3,348.6) " class="lb">240</text>
<polygon points="131.6,397.0 131.6,397.2 131.6,396.8 131.6,379.2 132.0,364.2 132.9,358.0 134.1,354.2 135.4,350.5 136.6,345.5 137.9,339.2 139.1,335.5 140.4,334.2 141.6,330.5 142.9,328.6 144.8,329.2 146.0,331.8 147.5,334.2 148.8,338.0 150.0,344.2 151.0,353.0 152.0,361.8 153.2,370.5 154.5,378.0 156.0,385.5 157.9,391.1 160.4,394.2 163.5,395.5 169.8,395.5 176.0,396.1 183.5,396.1 225.0,396.8 225.0,397.0" class="gf"/>
<polyline points="131.6,397.2 131.6,396.8 131.6,379.2 132.0,364.2 132.9,358.0 134.1,354.2 135.4,350.5 136.6,345.5 137.9,339.2 139.1,335.5 140.4,334.2 141.6,330.5 142.9,328.6 144.8,329.2 146.0,331.8 147.5,334.2 148.8,338.0 150.0,344.2 151.0,353.0 152.0,361.8 153.2,370.5 154.5,378.0 156.0,385.5 157.9,391.1 160.4,394.2 163.5,395.5 169.8,395.5 176.0,396.1 183.5,396.1 225.0,396.8" class="go"/>
<polyline points="130.6,396.0 131.0,390.5 132.2,384.2 134.1,381.8 136.0,379.9 137.9,376.8 139.8,373.0 141.6,368.0 142.9,361.8 144.1,355.5 145.4,349.2 146.6,343.0 147.9,336.8 149.1,333.0 150.4,330.5 151.6,328.6 152.9,330.5 154.1,338.0 155.4,348.0 156.6,358.0 157.9,368.0 159.1,376.8 160.8,384.2 162.5,388.0 164.4,389.9 166.5,389.9 168.4,391.1 170.2,393.0 172.1,391.1 174.6,391.1 176.5,388.0 177.5,381.8 178.8,375.5 180.2,370.5 181.6,373.0 183.0,371.1 184.2,373.0 185.5,376.8 187.1,380.5 189.0,385.5 190.9,388.0 193.4,388.6 195.9,390.5 197.8,392.4 199.6,393.6 201.5,395.5 204.0,397.0 209.0,397.3 224.0,397.3" class="bk"/>
<rect x="129.0" y="326.1" width="95.7" height="70.9" class="bx"/>
<path d="M122.7 328.5H129.0M125.8 330.8H129.0M125.8 333.1H129.0M125.8 335.4H129.0M125.8 337.6H129.0M122.7 339.9H129.0M125.8 342.2H129.0M125.8 344.5H129.0M125.8 346.8H129.0M125.8 349.1H129.0M122.7 351.3H129.0M125.8 353.6H129.0M125.8 355.9H129.0M125.8 358.2H129.0M125.8 360.5H129.0M122.7 362.8H129.0M125.8 365.0H129.0M125.8 367.3H129.0M125.8 369.6H129.0M125.8 371.9H129.0M122.7 374.2H129.0M125.8 376.4H129.0M125.8 378.7H129.0M125.8 381.0H129.0M125.8 383.3H129.0M122.7 385.6H129.0M125.8 387.9H129.0M125.8 390.1H129.0M125.8 392.4H129.0M125.8 394.7H129.0M122.7 397.0H129.0M129.0 397.0V400.8M136.2 397.0V400.8M140.4 397.0V400.8M143.4 397.0V400.8M145.7 397.0V400.8M147.6 397.0V400.8M149.2 397.0V400.8M150.6 397.0V400.8M151.8 397.0V400.8M152.9 397.0V400.8M160.1 397.0V400.8M164.3 397.0V400.8M167.3 397.0V400.8M169.6 397.0V400.8M171.5 397.0V400.8M173.1 397.0V400.8M174.5 397.0V400.8M175.8 397.0V400.8M176.8 397.0V400.8M184.1 397.0V400.8M188.3 397.0V400.8M191.3 397.0V400.8M193.6 397.0V400.8M195.5 397.0V400.8M197.1 397.0V400.8M198.5 397.0V400.8M199.7 397.0V400.8M200.8 397.0V400.8M208.0 397.0V400.8M212.2 397.0V400.8M215.2 397.0V400.8M217.5 397.0V400.8M219.4 397.0V400.8M221.0 397.0V400.8M222.4 397.0V400.8M223.6 397.0V400.8M224.7 397.0V400.8" class="tk"/>
<text transform="translate(191.7,337.2) " class="lb">19.8%</text>
<text transform="translate(191.6,348.8) " class="lb">207</text>
<polygon points="245.0,397.0 245.0,397.2 245.0,396.8 245.0,373.0 245.6,360.5 246.5,348.0 247.5,338.0 248.5,331.8 249.8,328.6 251.9,328.0 254.4,328.0 255.2,331.8 256.2,336.8 257.5,340.5 258.8,343.6 260.6,344.9 262.2,345.5 263.1,350.5 264.0,356.8 265.0,364.2 266.2,370.5 267.5,376.8 269.0,384.2 270.6,389.9 272.5,393.0 275.0,394.9 278.8,396.1 285.0,396.8 339.0,397.0 339.0,397.0" class="gf"/>
<polyline points="245.0,397.2 245.0,396.8 245.0,373.0 245.6,360.5 246.5,348.0 247.5,338.0 248.5,331.8 249.8,328.6 251.9,328.0 254.4,328.0 255.2,331.8 256.2,336.8 257.5,340.5 258.8,343.6 260.6,344.9 262.2,345.5 263.1,350.5 264.0,356.8 265.0,364.2 266.2,370.5 267.5,376.8 269.0,384.2 270.6,389.9 272.5,393.0 275.0,394.9 278.8,396.1 285.0,396.8 339.0,397.0" class="go"/>
<polyline points="244.4,396.0 245.0,393.0 246.2,388.0 247.5,383.0 248.8,379.2 250.2,376.8 251.9,378.0 253.1,373.0 254.4,369.2 255.6,366.8 256.9,361.8 257.8,355.5 258.8,353.0 260.0,356.8 261.0,359.2 262.2,354.2 263.5,353.0 264.8,355.5 266.0,354.2 267.2,352.4 268.5,353.0 269.8,358.0 270.6,364.2 271.9,371.8 273.1,378.0 274.8,384.2 276.5,388.0 278.5,390.5 281.0,391.8 283.5,392.6 286.0,393.0 288.5,392.0 290.5,391.1 293.0,392.4 295.5,391.8 298.0,390.5 300.5,389.2 302.4,386.8 304.2,383.0 306.1,378.0 307.4,373.0 308.0,365.5 308.6,358.0 309.0,348.0 309.5,339.2 310.0,331.8 310.5,328.0 311.5,328.0 312.0,333.0 312.5,340.5 313.0,348.0 313.6,355.5 314.2,364.2 315.0,373.0 316.1,380.5 317.4,386.8 319.0,391.8 321.1,394.9 324.2,396.5 330.5,396.8 338.0,397.0" class="bk"/>
<rect x="243.3" y="326.3" width="95.9" height="70.7" class="bx"/>
<path d="M238.5 328.7H243.3M240.1 331.0H243.3M240.1 333.3H243.3M240.1 335.5H243.3M240.1 337.8H243.3M238.5 340.1H243.3M240.1 342.4H243.3M240.1 344.6H243.3M240.1 346.9H243.3M240.1 349.2H243.3M238.5 351.5H243.3M240.1 353.7H243.3M240.1 356.0H243.3M240.1 358.3H243.3M240.1 360.6H243.3M238.5 362.8H243.3M240.1 365.1H243.3M240.1 367.4H243.3M240.1 369.7H243.3M240.1 372.0H243.3M238.5 374.2H243.3M240.1 376.5H243.3M240.1 378.8H243.3M240.1 381.1H243.3M240.1 383.3H243.3M238.5 385.6H243.3M240.1 387.9H243.3M240.1 390.2H243.3M240.1 392.4H243.3M240.1 394.7H243.3M238.5 397.0H243.3M243.3 397.0V400.8M250.5 397.0V400.8M254.7 397.0V400.8M257.7 397.0V400.8M260.1 397.0V400.8M262.0 397.0V400.8M263.6 397.0V400.8M265.0 397.0V400.8M266.2 397.0V400.8M267.3 397.0V400.8M274.5 397.0V400.8M278.7 397.0V400.8M281.7 397.0V400.8M284.0 397.0V400.8M285.9 397.0V400.8M287.5 397.0V400.8M288.9 397.0V400.8M290.2 397.0V400.8M291.2 397.0V400.8M298.5 397.0V400.8M302.7 397.0V400.8M305.7 397.0V400.8M308.0 397.0V400.8M309.9 397.0V400.8M311.5 397.0V400.8M312.9 397.0V400.8M314.1 397.0V400.8M315.2 397.0V400.8M322.4 397.0V400.8M326.7 397.0V400.8M329.7 397.0V400.8M332.0 397.0V400.8M333.9 397.0V400.8M335.5 397.0V400.8M336.9 397.0V400.8M338.1 397.0V400.8M339.2 397.0V400.8" class="tk"/>
<text transform="translate(314.9,338.0) " class="lb">38.2%</text>
<text transform="translate(314.8,349.4) " class="lb">526</text>
<polygon points="359.4,397.3 359.4,397.3 359.4,396.8 359.4,379.2 360.0,365.5 361.0,354.2 362.2,344.2 363.5,338.0 364.8,333.0 366.0,329.2 367.5,327.4 375.0,327.4 376.0,333.0 376.9,341.8 377.5,350.5 378.2,355.5 379.0,360.5 379.8,366.8 380.6,375.5 381.5,383.0 382.8,389.2 384.4,393.0 386.9,395.5 390.0,396.8 454.0,397.2 454.0,397.3" class="gf"/>
<polyline points="359.4,397.3 359.4,396.8 359.4,379.2 360.0,365.5 361.0,354.2 362.2,344.2 363.5,338.0 364.8,333.0 366.0,329.2 367.5,327.4 375.0,327.4 376.0,333.0 376.9,341.8 377.5,350.5 378.2,355.5 379.0,360.5 379.8,366.8 380.6,375.5 381.5,383.0 382.8,389.2 384.4,393.0 386.9,395.5 390.0,396.8 454.0,397.2" class="go"/>
<polyline points="358.1,394.2 360.0,391.8 361.9,389.2 363.8,386.8 365.6,384.2 367.5,381.1 369.4,376.8 371.2,371.8 373.1,367.4 375.0,363.6 376.9,359.9 378.5,356.8 379.8,353.0 380.6,351.1 381.5,354.2 382.5,360.5 383.5,368.0 384.8,375.5 386.2,383.0 387.8,388.0 390.0,390.5 392.5,392.4 396.5,393.6 400.3,393.0 403.3,391.0 405.8,388.6 408.0,386.5 410.0,384.5 412.5,381.5 414.4,378.0 415.8,374.0 416.6,368.0 417.4,359.2 418.0,350.5 418.6,343.0 419.5,335.5 420.2,329.2 421.8,328.0 423.0,330.5 423.6,338.0 424.2,345.5 424.9,354.2 425.8,364.2 426.8,373.0 428.2,379.2 429.9,384.2 431.8,388.6 433.6,392.4 436.1,394.9 439.2,396.5 444.2,397.0 453.0,397.3" class="bk"/>
<rect x="358.0" y="327.0" width="96.2" height="70.3" class="bx"/>
<path d="M353.2 329.4H358.0M354.8 331.7H358.0M354.8 333.9H358.0M354.8 336.2H358.0M354.8 338.5H358.0M353.2 340.7H358.0M354.8 343.0H358.0M354.8 345.2H358.0M354.8 347.5H358.0M354.8 349.8H358.0M353.2 352.0H358.0M354.8 354.3H358.0M354.8 356.6H358.0M354.8 358.8H358.0M354.8 361.1H358.0M353.2 363.3H358.0M354.8 365.6H358.0M354.8 367.9H358.0M354.8 370.1H358.0M354.8 372.4H358.0M353.2 374.7H358.0M354.8 376.9H358.0M354.8 379.2H358.0M354.8 381.5H358.0M354.8 383.7H358.0M353.2 386.0H358.0M354.8 388.2H358.0M354.8 390.5H358.0M354.8 392.8H358.0M354.8 395.0H358.0M353.2 397.3H358.0M358.0 397.3V401.1M365.2 397.3V401.1M369.5 397.3V401.1M372.5 397.3V401.1M374.8 397.3V401.1M376.7 397.3V401.1M378.3 397.3V401.1M379.7 397.3V401.1M380.9 397.3V401.1M382.1 397.3V401.1M389.3 397.3V401.1M393.5 397.3V401.1M396.5 397.3V401.1M398.9 397.3V401.1M400.8 397.3V401.1M402.4 397.3V401.1M403.8 397.3V401.1M405.0 397.3V401.1M406.1 397.3V401.1M413.3 397.3V401.1M417.6 397.3V401.1M420.6 397.3V401.1M422.9 397.3V401.1M424.8 397.3V401.1M426.4 397.3V401.1M427.8 397.3V401.1M429.0 397.3V401.1M430.1 397.3V401.1M437.4 397.3V401.1M441.6 397.3V401.1M444.6 397.3V401.1M447.0 397.3V401.1M448.9 397.3V401.1M450.5 397.3V401.1M451.9 397.3V401.1M453.1 397.3V401.1M454.2 397.3V401.1" class="tk"/>
<text transform="translate(427.6,338.3) " class="lb">54.9%</text>
<text transform="translate(427.5,349.9) " class="lb">403</text>
<polygon points="14.5,490.0 14.5,489.0 14.5,488.4 14.8,475.2 16.0,472.8 17.9,470.2 20.4,466.5 22.9,462.8 24.8,456.5 26.6,452.8 28.5,447.8 29.8,441.5 31.0,434.0 32.2,426.5 33.5,424.0 35.4,422.8 37.2,423.4 38.8,427.8 40.0,434.0 41.0,441.5 42.0,450.2 43.2,459.0 44.5,466.5 46.0,474.0 47.9,480.2 50.4,484.6 53.5,487.1 58.5,487.8 67.2,488.4 110.0,488.8 110.0,490.0" class="gf"/>
<polyline points="14.5,489.0 14.5,488.4 14.8,475.2 16.0,472.8 17.9,470.2 20.4,466.5 22.9,462.8 24.8,456.5 26.6,452.8 28.5,447.8 29.8,441.5 31.0,434.0 32.2,426.5 33.5,424.0 35.4,422.8 37.2,423.4 38.8,427.8 40.0,434.0 41.0,441.5 42.0,450.2 43.2,459.0 44.5,466.5 46.0,474.0 47.9,480.2 50.4,484.6 53.5,487.1 58.5,487.8 67.2,488.4 110.0,488.8" class="go"/>
<polyline points="14.8,488.4 17.2,487.1 20.4,485.2 23.5,482.8 26.6,479.6 29.1,476.5 31.0,472.8 32.5,467.8 33.8,462.8 35.0,456.5 36.0,451.5 37.2,446.5 38.5,441.5 39.8,438.4 41.0,441.5 42.2,446.5 43.8,451.5 45.0,456.5 46.2,461.5 47.9,464.6 49.8,464.4 51.2,461.5 52.5,456.0 54.0,450.3 55.6,446.0 57.4,443.7 58.9,443.5 60.2,445.0 61.0,450.2 62.2,456.5 63.5,462.8 64.8,469.0 66.7,475.2 69.0,478.4 71.5,479.6 74.0,482.0 76.5,484.6 79.6,486.5 82.8,487.8 86.5,488.4 92.8,488.8 109.0,488.8" class="bk"/>
<rect x="13.5" y="416.9" width="96.8" height="73.1" class="bx"/>
<path d="M7.2 419.3H13.5M10.3 421.7H13.5M10.3 424.0H13.5M10.3 426.4H13.5M10.3 428.7H13.5M7.2 431.1H13.5M10.3 433.4H13.5M10.3 435.8H13.5M10.3 438.2H13.5M10.3 440.5H13.5M7.2 442.9H13.5M10.3 445.2H13.5M10.3 447.6H13.5M10.3 449.9H13.5M10.3 452.3H13.5M7.2 454.6H13.5M10.3 457.0H13.5M10.3 459.4H13.5M10.3 461.7H13.5M10.3 464.1H13.5M7.2 466.4H13.5M10.3 468.8H13.5M10.3 471.1H13.5M10.3 473.5H13.5M10.3 475.9H13.5M7.2 478.2H13.5M10.3 480.6H13.5M10.3 482.9H13.5M10.3 485.3H13.5M10.3 487.6H13.5M7.2 490.0H13.5M13.5 490.0V493.8M20.8 490.0V493.8M25.0 490.0V493.8M28.1 490.0V493.8M30.4 490.0V493.8M32.3 490.0V493.8M34.0 490.0V493.8M35.4 490.0V493.8M36.6 490.0V493.8M37.7 490.0V493.8M45.0 490.0V493.8M49.2 490.0V493.8M52.3 490.0V493.8M54.6 490.0V493.8M56.5 490.0V493.8M58.2 490.0V493.8M59.6 490.0V493.8M60.8 490.0V493.8M61.9 490.0V493.8M69.2 490.0V493.8M73.4 490.0V493.8M76.5 490.0V493.8M78.8 490.0V493.8M80.7 490.0V493.8M82.4 490.0V493.8M83.8 490.0V493.8M85.0 490.0V493.8M86.1 490.0V493.8M93.4 490.0V493.8M97.6 490.0V493.8M100.7 490.0V493.8M103.0 490.0V493.8M104.9 490.0V493.8M106.6 490.0V493.8M108.0 490.0V493.8M109.2 490.0V493.8M110.3 490.0V493.8" class="tk"/>
<text transform="translate(78.1,427.7) " class="lb">46.9%</text>
<text transform="translate(78.0,439.3) " class="lb">123</text>
<polygon points="131.5,490.0 131.5,489.5 131.8,488.1 134.2,482.5 138.0,476.2 141.8,468.8 145.5,458.8 148.0,447.5 149.9,437.5 151.8,426.2 153.6,420.0 154.9,418.8 156.1,422.5 157.4,430.0 158.6,440.0 159.9,448.8 161.1,457.5 163.0,470.0 164.9,478.8 167.4,483.8 170.5,486.9 175.5,488.1 193.0,488.8 224.0,489.3 224.0,490.0" class="gf"/>
<polyline points="131.5,489.5 131.8,488.1 134.2,482.5 138.0,476.2 141.8,468.8 145.5,458.8 148.0,447.5 149.9,437.5 151.8,426.2 153.6,420.0 154.9,418.8 156.1,422.5 157.4,430.0 158.6,440.0 159.9,448.8 161.1,457.5 163.0,470.0 164.9,478.8 167.4,483.8 170.5,486.9 175.5,488.1 193.0,488.8 224.0,489.3" class="go"/>
<polyline points="131.8,488.8 135.5,486.9 139.2,485.0 142.4,483.1 145.5,478.8 148.0,473.8 150.5,465.0 152.4,456.2 153.6,447.5 154.5,441.2 155.5,439.4 158.0,439.4 159.9,441.9 161.1,447.5 162.4,455.0 163.6,463.8 164.9,468.8 166.8,470.0 168.0,467.5 169.2,461.2 171.1,457.5 173.0,456.9 174.9,459.4 176.9,463.1 178.0,468.8 179.2,475.0 180.6,480.0 182.5,483.1 186.9,483.1 190.0,486.2 192.5,488.1 197.5,489.0 224.0,489.3" class="bk"/>
<rect x="130.0" y="417.1" width="94.7" height="72.9" class="bx"/>
<path d="M123.7 419.5H130.0M126.8 421.9H130.0M126.8 424.2H130.0M126.8 426.6H130.0M126.8 428.9H130.0M123.7 431.2H130.0M126.8 433.6H130.0M126.8 435.9H130.0M126.8 438.3H130.0M126.8 440.6H130.0M123.7 443.0H130.0M126.8 445.3H130.0M126.8 447.7H130.0M126.8 450.1H130.0M126.8 452.4H130.0M123.7 454.8H130.0M126.8 457.1H130.0M126.8 459.4H130.0M126.8 461.8H130.0M126.8 464.1H130.0M123.7 466.5H130.0M126.8 468.8H130.0M126.8 471.2H130.0M126.8 473.5H130.0M126.8 475.9H130.0M123.7 478.2H130.0M126.8 480.6H130.0M126.8 482.9H130.0M126.8 485.3H130.0M126.8 487.6H130.0M123.7 490.0H130.0M130.0 490.0V493.8M137.1 490.0V493.8M141.3 490.0V493.8M144.3 490.0V493.8M146.5 490.0V493.8M148.4 490.0V493.8M150.0 490.0V493.8M151.4 490.0V493.8M152.6 490.0V493.8M153.7 490.0V493.8M160.8 490.0V493.8M165.0 490.0V493.8M167.9 490.0V493.8M170.2 490.0V493.8M172.1 490.0V493.8M173.7 490.0V493.8M175.1 490.0V493.8M176.3 490.0V493.8M177.3 490.0V493.8M184.5 490.0V493.8M188.6 490.0V493.8M191.6 490.0V493.8M193.9 490.0V493.8M195.8 490.0V493.8M197.4 490.0V493.8M198.7 490.0V493.8M199.9 490.0V493.8M201.0 490.0V493.8M208.2 490.0V493.8M212.3 490.0V493.8M215.3 490.0V493.8M217.6 490.0V493.8M219.4 490.0V493.8M221.0 490.0V493.8M222.4 490.0V493.8M223.6 490.0V493.8M224.7 490.0V493.8" class="tk"/>
<text transform="translate(191.1,428.0) " class="lb">33.9%</text>
<text transform="translate(191.0,439.8) " class="lb">102</text>
<polygon points="243.8,490.0 243.8,489.0 243.8,486.5 245.0,481.5 246.9,476.5 248.8,471.5 250.6,466.5 252.5,461.5 254.4,454.0 256.2,446.5 258.1,439.0 260.0,431.5 261.9,424.0 263.5,419.6 266.2,419.0 267.8,422.8 269.0,430.2 270.2,439.0 271.5,447.8 272.8,456.5 274.0,464.0 275.6,470.2 277.5,475.2 280.0,478.4 282.8,479.6 285.2,481.5 288.0,483.4 291.0,485.6 294.0,486.6 297.5,487.1 309.2,487.5 339.0,488.3 339.0,490.0" class="gf"/>
<polyline points="243.8,489.0 243.8,486.5 245.0,481.5 246.9,476.5 248.8,471.5 250.6,466.5 252.5,461.5 254.4,454.0 256.2,446.5 258.1,439.0 260.0,431.5 261.9,424.0 263.5,419.6 266.2,419.0 267.8,422.8 269.0,430.2 270.2,439.0 271.5,447.8 272.8,456.5 274.0,464.0 275.6,470.2 277.5,475.2 280.0,478.4 282.8,479.6 285.2,481.5 288.0,483.4 291.0,485.6 294.0,486.6 297.5,487.1 309.2,487.5 339.0,488.3" class="go"/>
<polyline points="243.8,488.8 250.0,488.0 256.2,487.1 261.2,486.8 265.0,485.9 268.8,484.6 271.9,482.1 274.4,479.0 276.0,474.0 276.9,466.5 277.5,457.8 278.5,449.0 279.4,439.0 280.2,429.0 281.2,421.5 282.3,418.8 289.6,418.8 290.3,425.0 290.9,433.0 291.6,441.5 292.4,450.2 293.2,458.0 294.1,465.5 295.2,472.8 296.8,475.2 298.6,473.6 300.8,471.6 302.7,473.0 304.6,475.2 306.8,477.8 308.6,479.0 310.5,480.2 312.4,482.1 314.2,484.0 316.1,485.9 318.0,487.1 321.8,488.0 328.0,488.4 338.0,488.7" class="bk"/>
<rect x="243.0" y="417.1" width="95.9" height="72.9" class="bx"/>
<path d="M238.2 419.5H243.0M239.8 421.9H243.0M239.8 424.2H243.0M239.8 426.6H243.0M239.8 428.9H243.0M238.2 431.2H243.0M239.8 433.6H243.0M239.8 435.9H243.0M239.8 438.3H243.0M239.8 440.6H243.0M238.2 443.0H243.0M239.8 445.3H243.0M239.8 447.7H243.0M239.8 450.1H243.0M239.8 452.4H243.0M238.2 454.8H243.0M239.8 457.1H243.0M239.8 459.4H243.0M239.8 461.8H243.0M239.8 464.1H243.0M238.2 466.5H243.0M239.8 468.8H243.0M239.8 471.2H243.0M239.8 473.5H243.0M239.8 475.9H243.0M238.2 478.2H243.0M239.8 480.6H243.0M239.8 482.9H243.0M239.8 485.3H243.0M239.8 487.6H243.0M238.2 490.0H243.0M243.0 490.0V493.8M250.2 490.0V493.8M254.4 490.0V493.8M257.4 490.0V493.8M259.8 490.0V493.8M261.7 490.0V493.8M263.3 490.0V493.8M264.7 490.0V493.8M265.9 490.0V493.8M267.0 490.0V493.8M274.2 490.0V493.8M278.4 490.0V493.8M281.4 490.0V493.8M283.7 490.0V493.8M285.6 490.0V493.8M287.2 490.0V493.8M288.6 490.0V493.8M289.9 490.0V493.8M290.9 490.0V493.8M298.2 490.0V493.8M302.4 490.0V493.8M305.4 490.0V493.8M307.7 490.0V493.8M309.6 490.0V493.8M311.2 490.0V493.8M312.6 490.0V493.8M313.8 490.0V493.8M314.9 490.0V493.8M322.1 490.0V493.8M326.4 490.0V493.8M329.4 490.0V493.8M331.7 490.0V493.8M333.6 490.0V493.8M335.2 490.0V493.8M336.6 490.0V493.8M337.8 490.0V493.8M338.9 490.0V493.8" class="tk"/>
<text transform="translate(304.3,428.7) " class="lb">90.2%</text>
<text transform="translate(304.2,440.4) " class="lb">127</text>
<polygon points="359.4,490.0 359.4,489.0 359.4,487.8 360.0,481.5 361.9,479.0 364.4,475.9 366.9,472.1 369.4,466.5 371.2,460.2 373.1,451.5 375.0,441.5 376.9,432.8 378.5,426.5 379.8,422.8 381.2,420.9 383.1,421.5 384.4,425.2 385.6,432.8 386.9,442.8 388.1,452.8 389.4,462.8 390.6,470.2 392.2,477.8 394.4,482.1 396.9,484.6 400.0,485.9 405.0,487.1 411.2,487.8 418.0,488.0 453.0,488.4 453.0,490.0" class="gf"/>
<polyline points="359.4,489.0 359.4,487.8 360.0,481.5 361.9,479.0 364.4,475.9 366.9,472.1 369.4,466.5 371.2,460.2 373.1,451.5 375.0,441.5 376.9,432.8 378.5,426.5 379.8,422.8 381.2,420.9 383.1,421.5 384.4,425.2 385.6,432.8 386.9,442.8 388.1,452.8 389.4,462.8 390.6,470.2 392.2,477.8 394.4,482.1 396.9,484.6 400.0,485.9 405.0,487.1 411.2,487.8 418.0,488.0 453.0,488.4" class="go"/>
<polyline points="367.0,488.6 370.0,488.4 373.8,486.5 376.9,484.0 380.0,480.2 382.5,476.5 385.0,473.4 387.2,470.2 388.5,466.5 389.8,460.2 391.0,452.8 392.2,444.0 393.1,435.2 394.0,426.5 395.0,421.5 396.9,419.6 399.4,419.6 400.8,421.0 401.9,426.0 402.9,434.6 403.9,444.0 404.9,451.5 406.2,460.2 407.4,467.8 408.8,474.0 410.5,479.8 412.8,484.5 415.5,487.3 418.1,488.2 421.8,488.6 453.0,488.7" class="bk"/>
<rect x="358.5" y="418.0" width="95.0" height="72.0" class="bx"/>
<path d="M352.2 420.4H358.5M355.3 422.7H358.5M355.3 425.0H358.5M355.3 427.4H358.5M355.3 429.7H358.5M352.2 432.0H358.5M355.3 434.3H358.5M355.3 436.6H358.5M355.3 439.0H358.5M355.3 441.3H358.5M352.2 443.6H358.5M355.3 445.9H358.5M355.3 448.2H358.5M355.3 450.6H358.5M355.3 452.9H358.5M352.2 455.2H358.5M355.3 457.5H358.5M355.3 459.8H358.5M355.3 462.2H358.5M355.3 464.5H358.5M352.2 466.8H358.5M355.3 469.1H358.5M355.3 471.4H358.5M355.3 473.8H358.5M355.3 476.1H358.5M352.2 478.4H358.5M355.3 480.7H358.5M355.3 483.0H358.5M355.3 485.4H358.5M355.3 487.7H358.5M352.2 490.0H358.5M358.5 490.0V493.8M365.6 490.0V493.8M369.8 490.0V493.8M372.8 490.0V493.8M375.1 490.0V493.8M377.0 490.0V493.8M378.6 490.0V493.8M379.9 490.0V493.8M381.2 490.0V493.8M382.2 490.0V493.8M389.4 490.0V493.8M393.6 490.0V493.8M396.5 490.0V493.8M398.9 490.0V493.8M400.7 490.0V493.8M402.3 490.0V493.8M403.7 490.0V493.8M404.9 490.0V493.8M406.0 490.0V493.8M413.1 490.0V493.8M417.3 490.0V493.8M420.3 490.0V493.8M422.6 490.0V493.8M424.5 490.0V493.8M426.1 490.0V493.8M427.4 490.0V493.8M428.7 490.0V493.8M429.8 490.0V493.8M436.9 490.0V493.8M441.1 490.0V493.8M444.0 490.0V493.8M446.4 490.0V493.8M448.2 490.0V493.8M449.8 490.0V493.8M451.2 490.0V493.8M452.4 490.0V493.8M453.5 490.0V493.8" class="tk"/>
<text transform="translate(416.5,429.3) " class="lb">65.2%</text>
<text transform="translate(416.4,440.9) " class="lb">68</text>
<polygon points="9.8,617.0 9.8,616.8 9.8,615.8 9.8,603.2 10.0,592.0 11.2,589.5 13.1,584.5 15.0,578.2 16.9,570.8 18.5,564.5 20.0,559.5 21.2,560.1 22.5,562.0 23.8,560.8 25.0,563.9 26.2,568.2 27.5,575.8 28.8,584.5 30.0,592.0 31.2,598.2 32.5,605.8 34.0,610.8 36.2,613.2 40.0,614.5 46.2,615.1 60.0,615.8 104.0,616.4 104.0,617.0" class="gf"/>
<polyline points="9.8,616.8 9.8,615.8 9.8,603.2 10.0,592.0 11.2,589.5 13.1,584.5 15.0,578.2 16.9,570.8 18.5,564.5 20.0,559.5 21.2,560.1 22.5,562.0 23.8,560.8 25.0,563.9 26.2,568.2 27.5,575.8 28.8,584.5 30.0,592.0 31.2,598.2 32.5,605.8 34.0,610.8 36.2,613.2 40.0,614.5 46.2,615.1 60.0,615.8 104.0,616.4" class="go"/>
<polyline points="9.5,615.0 10.0,612.0 11.2,608.2 13.1,606.4 15.0,605.1 16.9,603.2 18.8,601.4 20.6,598.9 22.5,597.0 24.4,594.5 26.2,592.6 28.1,592.6 29.8,590.8 31.5,588.9 33.1,590.1 34.8,593.2 36.5,596.4 38.5,599.5 40.6,602.0 42.5,602.3 44.9,600.2 47.1,597.4 49.0,594.2 50.5,592.3 52.5,592.3 54.7,591.4 55.8,594.2 57.4,597.6 59.3,599.5 60.8,601.0 62.4,603.2 64.2,605.8 66.1,607.6 68.0,608.9 70.5,610.1 73.0,611.4 75.5,612.6 78.0,613.9 80.5,615.1 84.2,616.4 90.5,616.8 103.0,616.8" class="bk"/>
<rect x="8.0" y="544.6" width="95.6" height="72.4" class="bx"/>
<path d="M1.7 547.0H8.0M4.8 549.3H8.0M4.8 551.7H8.0M4.8 554.0H8.0M4.8 556.3H8.0M1.7 558.7H8.0M4.8 561.0H8.0M4.8 563.3H8.0M4.8 565.7H8.0M4.8 568.0H8.0M1.7 570.3H8.0M4.8 572.7H8.0M4.8 575.0H8.0M4.8 577.3H8.0M4.8 579.7H8.0M1.7 582.0H8.0M4.8 584.3H8.0M4.8 586.7H8.0M4.8 589.0H8.0M4.8 591.3H8.0M1.7 593.7H8.0M4.8 596.0H8.0M4.8 598.3H8.0M4.8 600.7H8.0M4.8 603.0H8.0M1.7 605.3H8.0M4.8 607.7H8.0M4.8 610.0H8.0M4.8 612.3H8.0M4.8 614.7H8.0M1.7 617.0H8.0M8.0 617.0V620.8M15.2 617.0V620.8M19.4 617.0V620.8M22.4 617.0V620.8M24.7 617.0V620.8M26.6 617.0V620.8M28.2 617.0V620.8M29.6 617.0V620.8M30.8 617.0V620.8M31.9 617.0V620.8M39.1 617.0V620.8M43.3 617.0V620.8M46.3 617.0V620.8M48.6 617.0V620.8M50.5 617.0V620.8M52.1 617.0V620.8M53.5 617.0V620.8M54.7 617.0V620.8M55.8 617.0V620.8M63.0 617.0V620.8M67.2 617.0V620.8M70.2 617.0V620.8M72.5 617.0V620.8M74.4 617.0V620.8M76.0 617.0V620.8M77.4 617.0V620.8M78.6 617.0V620.8M79.7 617.0V620.8M86.9 617.0V620.8M91.1 617.0V620.8M94.1 617.0V620.8M96.4 617.0V620.8M98.3 617.0V620.8M99.9 617.0V620.8M101.3 617.0V620.8M102.5 617.0V620.8M103.6 617.0V620.8" class="tk"/>
<text transform="translate(77.5,557.8) " class="lb">52.8%</text>
<text transform="translate(77.4,569.4) " class="lb">128</text>
<polygon points="128.1,617.5 128.1,616.1 128.7,600.2 129.5,588.0 130.7,577.8 132.1,569.7 133.5,563.6 135.1,558.5 136.8,555.1 138.8,553.8 140.2,555.1 141.2,558.5 142.2,562.6 143.2,567.7 144.2,573.8 145.2,580.9 146.2,588.0 147.2,596.1 148.3,602.2 149.3,607.3 150.9,611.4 153.3,613.4 156.3,614.9 161.4,616.1 173.5,616.1 222.0,617.5 222.0,617.5" class="gf"/>
<polyline points="128.1,616.1 128.7,600.2 129.5,588.0 130.7,577.8 132.1,569.7 133.5,563.6 135.1,558.5 136.8,555.1 138.8,553.8 140.2,555.1 141.2,558.5 142.2,562.6 143.2,567.7 144.2,573.8 145.2,580.9 146.2,588.0 147.2,596.1 148.3,602.2 149.3,607.3 150.9,611.4 153.3,613.4 156.3,614.9 161.4,616.1 173.5,616.1 222.0,617.5" class="go"/>
<polyline points="128.1,602.2 130.1,601.2 132.1,598.2 134.1,595.1 136.1,591.1 138.2,587.0 139.6,584.4 140.8,585.0 142.2,588.0 143.6,592.1 144.8,596.1 146.2,601.2 147.7,606.3 149.3,610.4 151.3,612.8 153.3,613.8 155.3,613.4 157.3,612.4 159.4,610.4 161.4,607.3 163.4,604.3 165.0,600.2 166.4,596.1 168.0,592.1 169.9,589.0 171.9,587.0 173.9,585.0 175.5,586.0 176.9,589.0 178.3,593.1 179.6,597.2 181.0,600.6 182.6,603.3 184.6,605.3 186.6,607.3 188.6,609.4 190.7,611.4 193.3,613.4 195.7,615.5 198.7,616.5 201.8,616.9 205.8,617.5 222.0,617.5" class="bk"/>
<rect x="126.5" y="544.9" width="95.9" height="72.6" class="bx"/>
<path d="M120.2 547.3H126.5M123.3 549.6H126.5M123.3 552.0H126.5M123.3 554.3H126.5M123.3 556.7H126.5M120.2 559.0H126.5M123.3 561.3H126.5M123.3 563.7H126.5M123.3 566.0H126.5M123.3 568.4H126.5M120.2 570.7H126.5M123.3 573.0H126.5M123.3 575.4H126.5M123.3 577.7H126.5M123.3 580.1H126.5M120.2 582.4H126.5M123.3 584.7H126.5M123.3 587.1H126.5M123.3 589.4H126.5M123.3 591.8H126.5M120.2 594.1H126.5M123.3 596.4H126.5M123.3 598.8H126.5M123.3 601.1H126.5M123.3 603.5H126.5M120.2 605.8H126.5M123.3 608.1H126.5M123.3 610.5H126.5M123.3 612.8H126.5M123.3 615.2H126.5M120.2 617.5H126.5M126.5 617.5V621.3M133.7 617.5V621.3M137.9 617.5V621.3M140.9 617.5V621.3M143.3 617.5V621.3M145.2 617.5V621.3M146.8 617.5V621.3M148.2 617.5V621.3M149.4 617.5V621.3M150.5 617.5V621.3M157.7 617.5V621.3M161.9 617.5V621.3M164.9 617.5V621.3M167.2 617.5V621.3M169.1 617.5V621.3M170.7 617.5V621.3M172.1 617.5V621.3M173.4 617.5V621.3M174.4 617.5V621.3M181.7 617.5V621.3M185.9 617.5V621.3M188.9 617.5V621.3M191.2 617.5V621.3M193.1 617.5V621.3M194.7 617.5V621.3M196.1 617.5V621.3M197.3 617.5V621.3M198.4 617.5V621.3M205.6 617.5V621.3M209.9 617.5V621.3M212.9 617.5V621.3M215.2 617.5V621.3M217.1 617.5V621.3M218.7 617.5V621.3M220.1 617.5V621.3M221.3 617.5V621.3M222.4 617.5V621.3" class="tk"/>
<line x1="127.0" y1="544.9" x2="127.0" y2="617.5" style="stroke:#2a2a2a;stroke-width:2.2"/>
<text transform="translate(190.6,558.8) " class="lb">51.4%</text>
<text transform="translate(190.5,570.5) " class="lb">155</text>
<polygon points="241.1,617.5 241.1,616.5 241.5,585.9 242.7,582.8 244.1,578.8 245.5,573.7 247.1,567.5 248.7,562.4 250.1,558.4 251.6,555.7 252.8,555.3 253.8,557.3 254.8,560.4 255.8,563.5 257.2,568.6 258.2,573.7 259.2,581.8 260.2,590.0 261.2,598.1 262.3,606.3 263.3,611.4 264.9,614.0 267.3,615.5 275.4,616.1 335.5,616.9 335.5,617.5" class="gf"/>
<polyline points="241.1,616.5 241.5,585.9 242.7,582.8 244.1,578.8 245.5,573.7 247.1,567.5 248.7,562.4 250.1,558.4 251.6,555.7 252.8,555.3 253.8,557.3 254.8,560.4 255.8,563.5 257.2,568.6 258.2,573.7 259.2,581.8 260.2,590.0 261.2,598.1 262.3,606.3 263.3,611.4 264.9,614.0 267.3,615.5 275.4,616.1 335.5,616.9" class="go"/>
<polyline points="241.1,608.3 242.7,604.2 244.1,600.2 245.5,596.1 247.1,593.0 248.7,590.0 250.1,588.3 252.2,586.9 254.2,586.3 256.2,587.5 258.2,588.3 260.2,588.9 262.3,590.0 264.3,591.0 266.3,591.6 268.3,592.4 270.3,593.6 271.8,595.1 273.0,597.1 274.0,596.1 275.0,594.5 276.4,594.0 277.8,595.1 279.4,595.7 281.4,596.5 283.1,598.1 284.5,601.2 285.9,604.2 287.1,607.3 288.5,610.4 290.1,612.4 291.9,613.8 294.6,614.8 297.6,615.9 301.6,616.5 307.7,616.9 311.7,617.5 335.5,617.5" class="bk"/>
<rect x="240.0" y="545.1" width="95.5" height="72.4" class="bx"/>
<path d="M236.6 547.5H240.0M236.6 549.8H240.0M236.6 552.2H240.0M236.6 554.5H240.0M236.6 556.8H240.0M236.6 559.2H240.0M236.6 561.5H240.0M236.6 563.8H240.0M236.6 566.2H240.0M236.6 568.5H240.0M236.6 570.8H240.0M236.6 573.2H240.0M236.6 575.5H240.0M236.6 577.8H240.0M236.6 580.2H240.0M236.6 582.5H240.0M236.6 584.8H240.0M236.6 587.2H240.0M236.6 589.5H240.0M236.6 591.8H240.0M236.6 594.2H240.0M236.6 596.5H240.0M236.6 598.8H240.0M236.6 601.2H240.0M236.6 603.5H240.0M236.6 605.8H240.0M236.6 608.2H240.0M236.6 610.5H240.0M236.6 612.8H240.0M236.6 615.2H240.0M236.6 617.5H240.0M240.0 617.5V621.3M247.2 617.5V621.3M251.4 617.5V621.3M254.4 617.5V621.3M256.7 617.5V621.3M258.6 617.5V621.3M260.2 617.5V621.3M261.6 617.5V621.3M262.8 617.5V621.3M263.9 617.5V621.3M271.1 617.5V621.3M275.3 617.5V621.3M278.2 617.5V621.3M280.6 617.5V621.3M282.5 617.5V621.3M284.1 617.5V621.3M285.4 617.5V621.3M286.7 617.5V621.3M287.8 617.5V621.3M294.9 617.5V621.3M299.1 617.5V621.3M302.1 617.5V621.3M304.4 617.5V621.3M306.3 617.5V621.3M307.9 617.5V621.3M309.3 617.5V621.3M310.5 617.5V621.3M311.6 617.5V621.3M318.8 617.5V621.3M323.0 617.5V621.3M326.0 617.5V621.3M328.3 617.5V621.3M330.2 617.5V621.3M331.8 617.5V621.3M333.2 617.5V621.3M334.4 617.5V621.3M335.5 617.5V621.3" class="tk"/>
<line x1="240.9" y1="545.1" x2="240.9" y2="617.5" style="stroke:#2a2a2a;stroke-width:3.0"/>
<text transform="translate(303.0,559.6) " class="lb">44.4%</text>
<text transform="translate(302.9,571.0) " class="lb">66</text>
<polygon points="354.1,618.5 354.1,617.5 354.5,590.8 356.1,587.7 357.7,584.6 359.1,580.5 360.5,574.3 362.1,568.2 363.8,562.0 365.2,557.9 366.6,556.3 367.8,557.9 369.2,561.0 370.6,564.1 371.8,568.2 372.8,574.3 373.8,582.6 374.9,590.8 375.9,599.0 376.7,605.2 377.9,611.3 379.3,615.4 382.3,617.1 388.4,617.5 449.0,617.9 449.0,618.5" class="gf"/>
<polyline points="354.1,617.5 354.5,590.8 356.1,587.7 357.7,584.6 359.1,580.5 360.5,574.3 362.1,568.2 363.8,562.0 365.2,557.9 366.6,556.3 367.8,557.9 369.2,561.0 370.6,564.1 371.8,568.2 372.8,574.3 373.8,582.6 374.9,590.8 375.9,599.0 376.7,605.2 377.9,611.3 379.3,615.4 382.3,617.1 388.4,617.5 449.0,617.9" class="go"/>
<polyline points="354.1,612.3 355.1,617.5 358.1,617.9 363.1,617.1 367.2,616.4 370.2,615.4 372.2,614.4 374.2,613.0 376.3,611.3 378.3,610.3 380.3,609.3 382.3,608.2 384.3,607.2 386.4,607.6 388.0,606.2 389.4,603.1 390.8,599.0 392.4,594.9 394.0,590.8 395.5,585.6 396.9,582.6 398.1,578.5 399.1,572.3 400.1,564.1 400.9,560.4 402.1,559.6 403.5,561.0 404.5,564.1 405.5,568.2 406.6,571.3 407.6,574.3 408.6,578.5 409.6,582.6 410.6,586.7 411.6,591.8 412.6,596.9 413.6,601.0 414.6,604.1 416.0,607.2 417.7,610.3 419.7,613.4 421.7,615.4 424.7,616.7 428.8,617.9 432.8,618.5 449.0,618.5" class="bk"/>
<rect x="352.8" y="545.6" width="96.9" height="72.9" class="bx"/>
<path d="M349.4 548.0H352.8M349.4 550.4H352.8M349.4 552.7H352.8M349.4 555.0H352.8M349.4 557.4H352.8M349.4 559.8H352.8M349.4 562.1H352.8M349.4 564.5H352.8M349.4 566.8H352.8M349.4 569.1H352.8M349.4 571.5H352.8M349.4 573.9H352.8M349.4 576.2H352.8M349.4 578.5H352.8M349.4 580.9H352.8M349.4 583.2H352.8M349.4 585.6H352.8M349.4 587.9H352.8M349.4 590.3H352.8M349.4 592.6H352.8M349.4 595.0H352.8M349.4 597.4H352.8M349.4 599.7H352.8M349.4 602.0H352.8M349.4 604.4H352.8M349.4 606.8H352.8M349.4 609.1H352.8M349.4 611.4H352.8M349.4 613.8H352.8M349.4 616.1H352.8M349.4 618.5H352.8M352.8 618.5V622.3M360.1 618.5V622.3M364.4 618.5V622.3M367.4 618.5V622.3M369.7 618.5V622.3M371.7 618.5V622.3M373.3 618.5V622.3M374.7 618.5V622.3M375.9 618.5V622.3M377.0 618.5V622.3M384.3 618.5V622.3M388.6 618.5V622.3M391.6 618.5V622.3M394.0 618.5V622.3M395.9 618.5V622.3M397.5 618.5V622.3M398.9 618.5V622.3M400.1 618.5V622.3M401.2 618.5V622.3M408.5 618.5V622.3M412.8 618.5V622.3M415.8 618.5V622.3M418.2 618.5V622.3M420.1 618.5V622.3M421.7 618.5V622.3M423.1 618.5V622.3M424.4 618.5V622.3M425.5 618.5V622.3M432.8 618.5V622.3M437.0 618.5V622.3M440.1 618.5V622.3M442.4 618.5V622.3M444.3 618.5V622.3M445.9 618.5V622.3M447.4 618.5V622.3M448.6 618.5V622.3M449.7 618.5V622.3" class="tk"/>
<line x1="353.3" y1="545.6" x2="353.3" y2="618.5" style="stroke:#2a2a2a;stroke-width:2.2"/>
<text transform="translate(416.4,559.9) " class="lb">94.8%</text>
<text transform="translate(416.3,571.5) " class="lb">140</text>
<polygon points="11.7,708.5 11.7,706.9 12.1,688.5 12.5,672.2 13.1,666.1 14.5,662.0 16.1,657.9 17.7,653.9 19.1,649.8 20.6,646.1 22.2,644.1 23.6,644.1 24.8,646.7 25.8,650.8 26.8,655.9 27.8,662.0 28.8,669.2 29.8,676.3 30.9,683.4 31.9,689.5 32.9,694.6 34.3,699.7 36.3,704.8 38.3,706.9 103.4,707.9 103.4,708.5" class="gf"/>
<polyline points="11.7,706.9 12.1,688.5 12.5,672.2 13.1,666.1 14.5,662.0 16.1,657.9 17.7,653.9 19.1,649.8 20.6,646.1 22.2,644.1 23.6,644.1 24.8,646.7 25.8,650.8 26.8,655.9 27.8,662.0 28.8,669.2 29.8,676.3 30.9,683.4 31.9,689.5 32.9,694.6 34.3,699.7 36.3,704.8 38.3,706.9 103.4,707.9" class="go"/>
<polyline points="11.7,694.6 13.1,690.6 14.5,687.5 16.1,685.5 17.7,684.9 19.1,684.0 20.6,682.4 21.8,682.0 22.8,683.4 23.8,685.5 25.2,687.5 26.6,689.5 28.2,692.2 29.6,692.6 30.9,690.6 32.3,688.5 33.9,686.9 35.9,686.5 37.3,686.1 38.7,686.9 40.3,687.5 42.0,686.5 43.4,686.1 44.8,687.5 46.4,688.9 48.0,688.1 49.4,686.1 50.8,684.4 52.5,684.9 53.9,686.5 55.1,689.5 56.5,692.2 58.1,695.0 59.7,697.7 61.5,698.7 63.6,699.7 65.6,701.8 67.6,701.8 69.6,702.8 71.6,705.2 73.7,706.9 76.7,707.9 80.7,708.5 103.4,708.5" class="bk"/>
<rect x="9.5" y="634.5" width="93.9" height="74.0" class="bx"/>
<path d="M3.2 636.9H9.5M6.3 639.3H9.5M6.3 641.7H9.5M6.3 644.1H9.5M6.3 646.4H9.5M3.2 648.8H9.5M6.3 651.2H9.5M6.3 653.6H9.5M6.3 656.0H9.5M6.3 658.4H9.5M3.2 660.8H9.5M6.3 663.2H9.5M6.3 665.5H9.5M6.3 667.9H9.5M6.3 670.3H9.5M3.2 672.7H9.5M6.3 675.1H9.5M6.3 677.5H9.5M6.3 679.9H9.5M6.3 682.2H9.5M3.2 684.6H9.5M6.3 687.0H9.5M6.3 689.4H9.5M6.3 691.8H9.5M6.3 694.2H9.5M3.2 696.6H9.5M6.3 699.0H9.5M6.3 701.3H9.5M6.3 703.7H9.5M6.3 706.1H9.5M3.2 708.5H9.5M9.5 708.5V712.3M16.6 708.5V712.3M20.7 708.5V712.3M23.6 708.5V712.3M25.9 708.5V712.3M27.8 708.5V712.3M29.3 708.5V712.3M30.7 708.5V712.3M31.9 708.5V712.3M33.0 708.5V712.3M40.0 708.5V712.3M44.2 708.5V712.3M47.1 708.5V712.3M49.4 708.5V712.3M51.2 708.5V712.3M52.8 708.5V712.3M54.2 708.5V712.3M55.4 708.5V712.3M56.5 708.5V712.3M63.5 708.5V712.3M67.7 708.5V712.3M70.6 708.5V712.3M72.9 708.5V712.3M74.7 708.5V712.3M76.3 708.5V712.3M77.7 708.5V712.3M78.9 708.5V712.3M79.9 708.5V712.3M87.0 708.5V712.3M91.1 708.5V712.3M94.1 708.5V712.3M96.3 708.5V712.3M98.2 708.5V712.3M99.8 708.5V712.3M101.1 708.5V712.3M102.3 708.5V712.3M103.4 708.5V712.3" class="tk"/>
<line x1="10.4" y1="634.5" x2="10.4" y2="708.5" style="stroke:#2a2a2a;stroke-width:3.0"/>
<text transform="translate(76.7,649.4) " class="lb">50.6%</text>
<text transform="translate(76.6,661.0) " class="lb">63</text>
<polygon points="127.5,708.5 127.5,706.9 128.1,692.7 129.1,680.6 130.1,669.4 131.5,660.3 133.1,653.2 134.7,648.2 136.1,646.1 138.2,645.1 139.6,646.1 140.8,649.2 141.8,653.2 142.8,659.3 143.6,666.4 144.4,674.5 145.2,682.6 146.2,690.7 147.2,696.8 148.9,701.8 150.9,704.9 154.3,706.5 161.4,707.3 222.0,707.9 222.0,708.5" class="gf"/>
<polyline points="127.5,706.9 128.1,692.7 129.1,680.6 130.1,669.4 131.5,660.3 133.1,653.2 134.7,648.2 136.1,646.1 138.2,645.1 139.6,646.1 140.8,649.2 141.8,653.2 142.8,659.3 143.6,666.4 144.4,674.5 145.2,682.6 146.2,690.7 147.2,696.8 148.9,701.8 150.9,704.9 154.3,706.5 161.4,707.3 222.0,707.9" class="go"/>
<polyline points="127.5,692.7 128.7,690.7 130.1,687.6 131.5,685.0 133.1,682.2 134.7,679.5 135.7,677.5 137.2,678.9 138.8,681.6 140.2,683.6 141.2,686.6 142.2,690.7 143.2,694.7 144.2,697.8 145.2,699.8 146.2,698.8 147.2,694.7 148.3,689.7 149.3,684.6 150.3,680.6 151.3,677.5 152.9,674.5 154.3,673.5 155.7,672.5 157.3,671.4 159.0,670.4 160.4,670.8 161.4,673.5 163.0,676.5 164.4,679.5 165.8,682.6 167.4,685.6 169.1,689.7 170.7,693.7 172.5,697.2 174.5,699.8 176.5,701.8 178.5,702.8 180.6,704.9 182.6,706.5 185.6,707.3 189.7,707.9 222.0,708.5" class="bk"/>
<rect x="126.3" y="635.6" width="95.8" height="72.9" class="bx"/>
<path d="M120.0 638.0H126.3M123.1 640.4H126.3M123.1 642.7H126.3M123.1 645.0H126.3M123.1 647.4H126.3M120.0 649.8H126.3M123.1 652.1H126.3M123.1 654.5H126.3M123.1 656.8H126.3M123.1 659.1H126.3M120.0 661.5H126.3M123.1 663.9H126.3M123.1 666.2H126.3M123.1 668.5H126.3M123.1 670.9H126.3M120.0 673.2H126.3M123.1 675.6H126.3M123.1 677.9H126.3M123.1 680.3H126.3M123.1 682.6H126.3M120.0 685.0H126.3M123.1 687.4H126.3M123.1 689.7H126.3M123.1 692.0H126.3M123.1 694.4H126.3M120.0 696.8H126.3M123.1 699.1H126.3M123.1 701.4H126.3M123.1 703.8H126.3M123.1 706.1H126.3M120.0 708.5H126.3M126.3 708.5V712.3M133.5 708.5V712.3M137.7 708.5V712.3M140.7 708.5V712.3M143.0 708.5V712.3M144.9 708.5V712.3M146.5 708.5V712.3M147.9 708.5V712.3M149.2 708.5V712.3M150.2 708.5V712.3M157.5 708.5V712.3M161.7 708.5V712.3M164.7 708.5V712.3M167.0 708.5V712.3M168.9 708.5V712.3M170.5 708.5V712.3M171.9 708.5V712.3M173.1 708.5V712.3M174.2 708.5V712.3M181.4 708.5V712.3M185.6 708.5V712.3M188.6 708.5V712.3M190.9 708.5V712.3M192.8 708.5V712.3M194.4 708.5V712.3M195.8 708.5V712.3M197.1 708.5V712.3M198.1 708.5V712.3M205.4 708.5V712.3M209.6 708.5V712.3M212.6 708.5V712.3M214.9 708.5V712.3M216.8 708.5V712.3M218.4 708.5V712.3M219.8 708.5V712.3M221.0 708.5V712.3M222.1 708.5V712.3" class="tk"/>
<line x1="126.8" y1="635.6" x2="126.8" y2="708.5" style="stroke:#2a2a2a;stroke-width:2.2"/>
<text transform="translate(189.6,649.4) " class="lb">50.8%</text>
<text transform="translate(189.5,661.0) " class="lb">40</text>
<polygon points="241.1,709.5 241.1,707.5 241.5,677.0 242.7,673.0 244.1,666.9 245.5,660.8 247.1,655.8 248.7,651.7 250.1,648.7 251.6,648.2 253.2,650.7 254.6,654.7 255.8,657.8 256.8,662.9 257.6,670.0 258.6,677.0 259.6,685.2 260.6,693.3 261.7,699.4 262.9,703.4 264.9,705.8 269.3,707.5 335.0,709.1 335.0,709.5" class="gf"/>
<polyline points="241.1,707.5 241.5,677.0 242.7,673.0 244.1,666.9 245.5,660.8 247.1,655.8 248.7,651.7 250.1,648.7 251.6,648.2 253.2,650.7 254.6,654.7 255.8,657.8 256.8,662.9 257.6,670.0 258.6,677.0 259.6,685.2 260.6,693.3 261.7,699.4 262.9,703.4 264.9,705.8 269.3,707.5 335.0,709.1" class="go"/>
<polyline points="240.7,695.3 242.1,694.3 243.5,693.3 245.1,692.9 246.7,693.3 248.1,694.3 249.5,696.3 251.2,698.3 252.8,701.4 254.2,704.4 255.6,707.1 257.2,708.5 258.8,709.1 260.2,708.5 261.7,707.9 263.3,705.4 264.9,702.4 266.3,699.4 267.9,696.3 269.7,693.3 271.3,690.2 273.0,687.2 274.6,684.1 276.4,681.1 278.0,677.0 279.4,673.0 281.0,668.9 282.5,664.9 283.9,662.4 285.5,660.8 286.7,662.4 287.9,665.9 289.1,670.0 290.1,674.0 291.1,678.1 292.3,683.1 293.6,689.2 294.8,695.3 296.0,700.4 297.2,704.4 298.6,707.5 300.6,709.1 303.7,709.5 335.0,709.5" class="bk"/>
<rect x="239.5" y="637.5" width="95.5" height="72.0" class="bx"/>
<path d="M236.1 639.9H239.5M236.1 642.2H239.5M236.1 644.5H239.5M236.1 646.9H239.5M236.1 649.2H239.5M236.1 651.5H239.5M236.1 653.8H239.5M236.1 656.1H239.5M236.1 658.5H239.5M236.1 660.8H239.5M236.1 663.1H239.5M236.1 665.4H239.5M236.1 667.7H239.5M236.1 670.1H239.5M236.1 672.4H239.5M236.1 674.7H239.5M236.1 677.0H239.5M236.1 679.3H239.5M236.1 681.7H239.5M236.1 684.0H239.5M236.1 686.3H239.5M236.1 688.6H239.5M236.1 690.9H239.5M236.1 693.3H239.5M236.1 695.6H239.5M236.1 697.9H239.5M236.1 700.2H239.5M236.1 702.5H239.5M236.1 704.9H239.5M236.1 707.2H239.5M236.1 709.5H239.5M239.5 709.5V713.3M246.7 709.5V713.3M250.9 709.5V713.3M253.9 709.5V713.3M256.2 709.5V713.3M258.1 709.5V713.3M259.7 709.5V713.3M261.1 709.5V713.3M262.3 709.5V713.3M263.4 709.5V713.3M270.6 709.5V713.3M274.8 709.5V713.3M277.7 709.5V713.3M280.1 709.5V713.3M282.0 709.5V713.3M283.6 709.5V713.3M284.9 709.5V713.3M286.2 709.5V713.3M287.2 709.5V713.3M294.4 709.5V713.3M298.6 709.5V713.3M301.6 709.5V713.3M303.9 709.5V713.3M305.8 709.5V713.3M307.4 709.5V713.3M308.8 709.5V713.3M310.0 709.5V713.3M311.1 709.5V713.3M318.3 709.5V713.3M322.5 709.5V713.3M325.5 709.5V713.3M327.8 709.5V713.3M329.7 709.5V713.3M331.3 709.5V713.3M332.7 709.5V713.3M333.9 709.5V713.3M335.0 709.5V713.3" class="tk"/>
<line x1="240.2" y1="637.5" x2="240.2" y2="709.5" style="stroke:#2a2a2a;stroke-width:2.5"/>
<text transform="translate(303.0,652.3) " class="lb">70.3%</text>
<text transform="translate(302.9,664.0) " class="lb">81</text>
<polygon points="354.5,709.5 354.5,707.5 354.7,681.0 356.1,677.9 357.7,673.9 359.1,668.8 360.5,662.7 362.1,656.5 363.8,651.5 365.2,647.4 366.6,646.4 367.8,648.0 369.2,651.5 370.6,655.5 371.8,660.6 372.8,666.7 373.8,674.9 374.9,683.0 375.9,691.2 376.9,698.3 378.3,703.4 380.3,706.4 384.3,707.9 449.0,709.1 449.0,709.5" class="gf"/>
<polyline points="354.5,707.5 354.7,681.0 356.1,677.9 357.7,673.9 359.1,668.8 360.5,662.7 362.1,656.5 363.8,651.5 365.2,647.4 366.6,646.4 367.8,648.0 369.2,651.5 370.6,655.5 371.8,660.6 372.8,666.7 373.8,674.9 374.9,683.0 375.9,691.2 376.9,698.3 378.3,703.4 380.3,706.4 384.3,707.9 449.0,709.1" class="go"/>
<polyline points="354.5,708.5 356.1,707.1 358.1,705.4 360.1,704.4 362.1,703.4 364.2,702.4 366.2,701.4 368.2,699.3 370.2,696.3 371.8,693.2 372.8,690.2 373.6,685.1 374.7,679.0 375.7,670.8 376.7,662.7 377.9,654.5 379.3,650.4 380.7,646.4 381.9,643.9 383.1,643.3 383.9,645.3 384.8,649.4 385.6,654.5 386.4,659.6 387.4,664.7 388.4,669.8 389.4,673.9 390.8,677.9 392.4,681.0 394.0,685.1 395.7,689.1 397.3,693.2 398.9,696.9 400.9,699.3 402.9,701.4 404.9,703.0 407.0,705.0 409.0,707.1 411.6,708.5 416.7,709.1 449.0,709.5" class="bk"/>
<rect x="352.8" y="637.2" width="96.2" height="72.3" class="bx"/>
<path d="M349.4 639.6H352.8M349.4 641.9H352.8M349.4 644.3H352.8M349.4 646.6H352.8M349.4 648.9H352.8M349.4 651.2H352.8M349.4 653.6H352.8M349.4 655.9H352.8M349.4 658.2H352.8M349.4 660.6H352.8M349.4 662.9H352.8M349.4 665.2H352.8M349.4 667.6H352.8M349.4 669.9H352.8M349.4 672.2H352.8M349.4 674.5H352.8M349.4 676.9H352.8M349.4 679.2H352.8M349.4 681.5H352.8M349.4 683.9H352.8M349.4 686.2H352.8M349.4 688.5H352.8M349.4 690.9H352.8M349.4 693.2H352.8M349.4 695.5H352.8M349.4 697.9H352.8M349.4 700.2H352.8M349.4 702.5H352.8M349.4 704.8H352.8M349.4 707.2H352.8M349.4 709.5H352.8M352.8 709.5V713.3M360.0 709.5V713.3M364.3 709.5V713.3M367.3 709.5V713.3M369.6 709.5V713.3M371.5 709.5V713.3M373.1 709.5V713.3M374.5 709.5V713.3M375.7 709.5V713.3M376.9 709.5V713.3M384.1 709.5V713.3M388.3 709.5V713.3M391.3 709.5V713.3M393.7 709.5V713.3M395.6 709.5V713.3M397.2 709.5V713.3M398.6 709.5V713.3M399.8 709.5V713.3M400.9 709.5V713.3M408.1 709.5V713.3M412.4 709.5V713.3M415.4 709.5V713.3M417.7 709.5V713.3M419.6 709.5V713.3M421.2 709.5V713.3M422.6 709.5V713.3M423.8 709.5V713.3M424.9 709.5V713.3M432.2 709.5V713.3M436.4 709.5V713.3M439.4 709.5V713.3M441.8 709.5V713.3M443.7 709.5V713.3M445.3 709.5V713.3M446.7 709.5V713.3M447.9 709.5V713.3M449.0 709.5V713.3" class="tk"/>
<line x1="353.3" y1="637.2" x2="353.3" y2="709.5" style="stroke:#2a2a2a;stroke-width:2.2"/>
<text transform="translate(415.7,650.1) " class="lb">76.6%</text>
<text transform="translate(415.6,662.1) " class="lb">32</text>
<path d="M327.4 78.1V98.1M327.4 88.5H340.6" class="gt"/>
<path d="M440.9 80V100M440.9 89.75H454.5" class="gt"/>
<path d="M313.25 159.5V179.3M336.75 159.5V179.3M313.25 169.5H336.75" class="gt"/>
<path d="M427.75 159.75V179.1M451.1 159.75V179.1M427.75 169.5H451.1" class="gt"/>
</svg>
</body></html>
